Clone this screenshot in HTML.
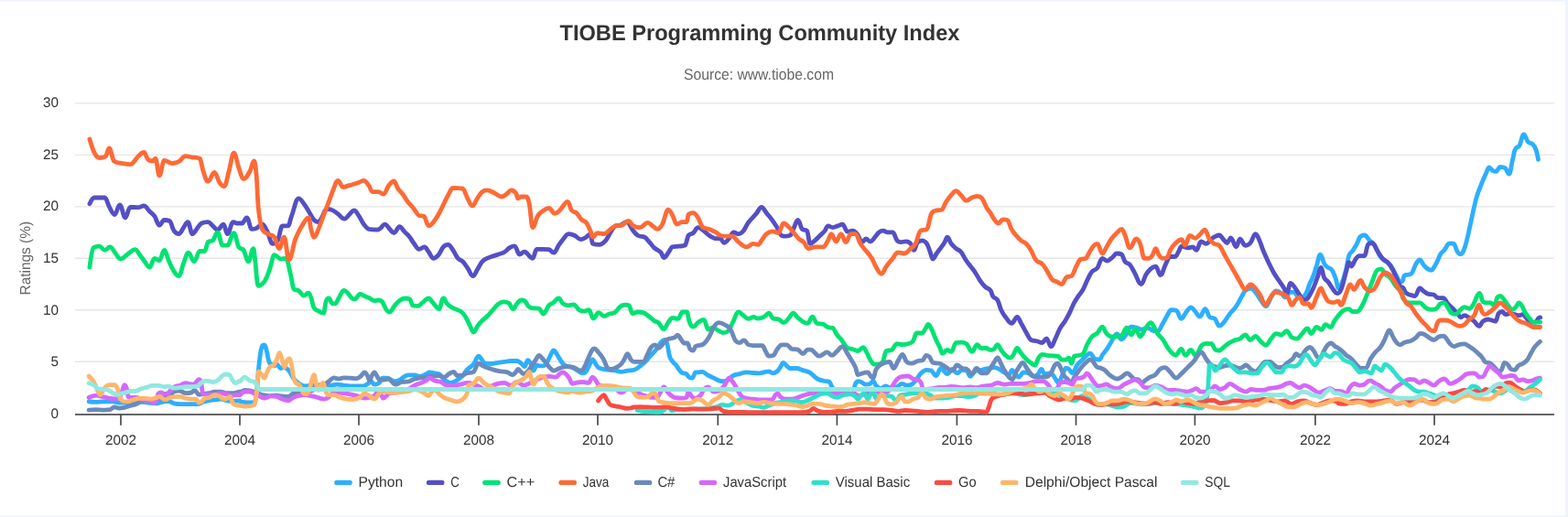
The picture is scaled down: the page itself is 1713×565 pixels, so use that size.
<!DOCTYPE html>
<html><head><meta charset="utf-8"><title>TIOBE Programming Community Index</title>
<style>
html,body{margin:0;padding:0;background:#f0f5fd;width:1713px;height:565px;overflow:hidden}
.card{position:absolute;left:-20px;top:0;width:1730px;height:563px;background:#fff}
.bot{position:absolute;left:0;top:563px;width:1710px;height:1px;background:#f6f8fd}
.topsh{position:absolute;left:0;top:0;width:1710px;height:7px;background:linear-gradient(#eef2fa 0,#eef2fa 1px,#f6f8fb 1px,#f6f8fb 2px,#fcfcfd 2px,#fdfdfd 6px,#fff 7px)}
svg{position:absolute;left:0;top:0}
text{font-family:"Liberation Sans", Arial, sans-serif;text-rendering:geometricPrecision}
</style></head><body>
<div class="card"></div><div class="bot"></div><div class="topsh"></div>
<svg width="1713" height="565" viewBox="0 0 1713 565">
<g><path d="M82 395.30H1698" stroke="#e6e6e6" stroke-width="1.4"/><path d="M82 338.81H1698" stroke="#e6e6e6" stroke-width="1.4"/><path d="M82 282.32H1698" stroke="#e6e6e6" stroke-width="1.4"/><path d="M82 225.83H1698" stroke="#e6e6e6" stroke-width="1.4"/><path d="M82 169.34H1698" stroke="#e6e6e6" stroke-width="1.4"/><path d="M82 112.85H1698" stroke="#e6e6e6" stroke-width="1.4"/></g>
<text x="830" y="44" text-anchor="middle" font-size="24" font-weight="bold" fill="#333333" textLength="437" lengthAdjust="spacingAndGlyphs">TIOBE Programming Community Index</text>
<text x="829" y="86.7" text-anchor="middle" font-size="17" fill="#666666" textLength="164" lengthAdjust="spacingAndGlyphs">Source: www.tiobe.com</text>
<g><text x="64" y="456.9" text-anchor="end" font-size="15.3" fill="#333333">0</text><text x="64" y="400.2" text-anchor="end" font-size="15.3" fill="#333333">5</text><text x="64" y="343.6" text-anchor="end" font-size="15.3" fill="#333333">10</text><text x="64" y="286.9" text-anchor="end" font-size="15.3" fill="#333333">15</text><text x="64" y="230.2" text-anchor="end" font-size="15.3" fill="#333333">20</text><text x="64" y="173.6" text-anchor="end" font-size="15.3" fill="#333333">25</text><text x="64" y="116.9" text-anchor="end" font-size="15.3" fill="#333333">30</text></g>
<text transform="translate(33.2 282.2) rotate(-90)" text-anchor="middle" font-size="16" fill="#666666" textLength="80.5" lengthAdjust="spacingAndGlyphs">Ratings (%)</text>
<g><path d="M82 453H1698" stroke="#333333" stroke-width="1.5"/><path d="M132.0 453V464.8" stroke="#4a4a4a" stroke-width="1.7"/><text x="132.0" y="486.2" text-anchor="middle" font-size="15.3" fill="#333333">2002</text><path d="M262.0 453V464.8" stroke="#4a4a4a" stroke-width="1.7"/><text x="262.0" y="486.2" text-anchor="middle" font-size="15.3" fill="#333333">2004</text><path d="M392.0 453V464.8" stroke="#4a4a4a" stroke-width="1.7"/><text x="392.0" y="486.2" text-anchor="middle" font-size="15.3" fill="#333333">2006</text><path d="M523.0 453V464.8" stroke="#4a4a4a" stroke-width="1.7"/><text x="523.0" y="486.2" text-anchor="middle" font-size="15.3" fill="#333333">2008</text><path d="M653.0 453V464.8" stroke="#4a4a4a" stroke-width="1.7"/><text x="653.0" y="486.2" text-anchor="middle" font-size="15.3" fill="#333333">2010</text><path d="M784.3 453V464.8" stroke="#4a4a4a" stroke-width="1.7"/><text x="784.3" y="486.2" text-anchor="middle" font-size="15.3" fill="#333333">2012</text><path d="M914.4 453V464.8" stroke="#4a4a4a" stroke-width="1.7"/><text x="914.4" y="486.2" text-anchor="middle" font-size="15.3" fill="#333333">2014</text><path d="M1045.4 453V464.8" stroke="#4a4a4a" stroke-width="1.7"/><text x="1045.4" y="486.2" text-anchor="middle" font-size="15.3" fill="#333333">2016</text><path d="M1175.5 453V464.8" stroke="#4a4a4a" stroke-width="1.7"/><text x="1175.5" y="486.2" text-anchor="middle" font-size="15.3" fill="#333333">2018</text><path d="M1305.4 453V464.8" stroke="#4a4a4a" stroke-width="1.7"/><text x="1305.4" y="486.2" text-anchor="middle" font-size="15.3" fill="#333333">2020</text><path d="M1436.9 453V464.8" stroke="#4a4a4a" stroke-width="1.7"/><text x="1436.9" y="486.2" text-anchor="middle" font-size="15.3" fill="#333333">2022</text><path d="M1567.0 453V464.8" stroke="#4a4a4a" stroke-width="1.7"/><text x="1567.0" y="486.2" text-anchor="middle" font-size="15.3" fill="#333333">2024</text></g>
<g><path d="M97.1 438.8C97.1 438.8 101.4 439.3 104.3 439.3C108.1 439.3 110.1 438.8 113.9 438.8C117.7 438.8 119.6 438.8 123.4 438.8C126.0 438.8 127.2 440.1 129.8 440.1C133.0 440.1 134.6 440.1 137.8 440.1C141.0 440.1 142.5 440.0 145.7 439.8C148.9 439.6 150.5 439.3 153.7 439.3C156.9 439.3 158.4 439.8 161.6 440.1C164.8 440.4 166.4 440.9 169.6 440.9C172.8 440.9 174.4 439.8 177.6 439.3C180.1 438.9 181.4 438.5 183.9 438.5C186.5 438.5 187.7 440.3 190.3 440.9C192.9 441.5 194.1 441.7 196.7 441.7C199.3 441.7 200.5 441.7 203.1 441.7C205.6 441.7 206.9 441.7 209.4 441.7C212.0 441.7 213.2 441.7 215.8 441.7C218.4 441.7 219.6 440.1 222.2 439.3C224.7 438.5 226.0 438.2 228.5 437.7C231.1 437.2 232.3 437.2 234.9 436.9C237.5 436.6 238.7 436.1 241.3 436.1C243.9 436.1 245.1 437.2 247.7 437.7C250.2 438.2 251.5 438.5 254.0 438.5C257.2 438.5 258.8 437.9 262.0 437.9C262.0 437.9 262.0 438.5 262.0 438.5C264.1 439.2 265.2 439.4 267.3 439.7C269.4 440.0 270.5 440.0 272.6 440.0C274.7 440.0 275.8 440.0 277.9 439.7C279.0 439.4 279.5 435.8 280.6 427.3C281.3 421.6 281.7 411.5 282.4 404.3C283.4 393.8 284.0 389.2 285.0 383.0C286.4 376.8 287.2 376.8 288.6 376.8C289.6 376.8 290.2 379.4 291.2 383.0C292.3 386.8 292.8 392.7 293.9 395.4C294.9 398.1 295.5 397.4 296.5 398.1C297.9 399.1 298.7 399.8 300.1 399.8C301.1 399.8 301.7 398.1 302.7 398.1C304.1 398.1 304.9 402.5 306.3 402.5C307.7 402.5 308.4 401.6 309.8 401.6C311.9 401.6 313.0 402.0 315.1 404.3C317.2 406.6 318.3 410.3 320.4 413.1C322.5 415.9 323.6 416.9 325.7 418.4C328.5 420.4 330.0 422.0 332.8 422.0C335.6 422.0 337.1 421.1 339.9 421.1C342.7 421.1 344.2 421.1 347.0 421.1C349.8 421.1 351.3 420.2 354.1 420.2C356.9 420.2 358.4 421.1 361.2 421.1C364.0 421.1 365.4 420.2 368.2 420.2C371.0 420.2 372.5 420.7 375.3 421.1C378.1 421.5 379.6 422.0 382.4 422.0C385.2 422.0 386.7 422.0 389.5 422.0C392.3 422.0 393.8 422.0 396.6 422.0C398.7 422.0 399.8 420.6 401.9 419.3C403.3 418.5 404.0 416.7 405.4 416.7C406.8 416.7 407.6 420.2 409.0 420.2C411.1 420.2 412.2 420.1 414.3 418.4C415.7 417.3 416.4 413.1 417.8 413.1C419.9 413.1 421.0 413.1 423.1 413.1C424.5 413.1 425.3 414.3 426.7 414.9C428.8 415.8 429.9 416.7 432.0 416.7C434.1 416.7 435.2 416.0 437.3 414.9C438.7 414.2 439.4 413.0 440.8 412.2C442.9 411.0 444.0 409.9 446.1 409.9C448.9 409.9 450.4 409.9 453.2 409.9C455.3 409.9 456.4 411.3 458.5 411.3C461.3 411.3 462.8 409.9 465.6 408.7C467.0 408.1 467.8 406.9 469.2 406.9C471.3 406.9 472.4 407.4 474.5 407.8C476.6 408.2 477.7 407.8 479.8 408.7C481.9 409.6 483.0 413.2 485.1 414.9C487.9 417.1 489.4 418.4 492.2 418.4C494.3 418.4 495.4 417.9 497.5 416.7C500.3 415.1 501.8 414.1 504.6 411.3C506.7 409.2 507.8 406.8 509.9 404.3C510.7 403.3 511.2 403.2 512.0 402.5C514.1 400.7 515.2 400.7 517.3 398.1C519.6 395.3 520.7 389.2 523.0 389.2C524.3 389.2 524.9 391.3 526.2 392.8C527.6 394.5 528.3 396.9 529.7 397.2C532.5 397.5 534.0 397.5 536.8 397.5C539.6 397.5 541.1 396.7 543.9 396.3C546.7 395.9 548.2 395.8 551.0 395.4C553.8 395.0 555.2 394.5 558.0 394.5C560.8 394.5 562.3 394.5 565.1 394.5C567.2 394.5 568.3 396.5 570.4 398.1C571.5 398.9 572.0 400.7 573.1 400.7C574.5 400.7 575.2 393.6 576.6 393.6C578.0 393.6 578.8 395.4 580.2 398.1C581.2 400.0 581.8 405.1 582.8 405.1C584.2 405.1 585.0 399.0 586.4 399.0C587.8 399.0 588.5 399.8 589.9 399.8C591.3 399.8 592.0 399.8 593.4 399.8C594.8 399.8 595.6 399.2 597.0 397.2C598.4 395.3 599.1 392.6 600.5 390.1C602.3 386.9 603.2 383.0 605.0 383.0C606.4 383.0 607.1 385.4 608.5 387.4C609.6 389.0 610.1 390.2 611.2 391.9C612.6 394.1 613.3 395.6 614.7 397.2C616.1 398.8 616.8 399.2 618.2 399.8C621.0 401.0 622.5 400.4 625.3 401.6C628.1 402.8 629.6 404.3 632.4 406.0C633.8 406.8 634.5 407.8 635.9 407.8C637.3 407.8 638.1 407.8 639.5 406.9C641.3 406.0 642.1 402.1 643.9 399.0C645.3 396.5 646.0 392.8 647.4 392.8C648.8 392.8 649.6 396.1 651.0 398.1C652.0 399.6 652.6 400.9 653.6 401.6C655.8 403.0 656.8 402.9 659.0 403.4C661.8 404.0 663.2 404.0 666.0 404.3C668.8 404.6 670.3 404.6 673.1 405.1C675.2 405.5 676.3 406.4 678.4 406.4C681.2 406.4 682.7 405.5 685.5 405.1C688.3 404.7 689.8 405.1 692.6 404.3C695.4 403.5 696.9 401.8 699.7 399.8C701.8 398.3 702.9 397.5 705.0 395.4C707.1 393.3 708.2 391.6 710.3 389.2C713.1 385.9 714.6 384.8 717.4 381.2C719.5 378.5 720.6 375.6 722.7 373.3C724.1 371.8 724.8 371.5 726.2 371.5C727.3 371.5 727.8 372.3 728.9 375.9C729.9 379.4 730.5 385.9 731.5 389.2C732.9 393.7 733.7 393.4 735.1 395.4C736.5 397.3 737.2 397.2 738.6 399.0C740.0 400.8 740.8 402.5 742.2 404.3C743.6 406.0 744.3 407.4 745.7 407.8C747.1 408.2 747.9 407.8 749.3 408.2C750.7 408.6 751.4 411.3 752.8 412.2C754.2 413.1 754.9 413.1 756.3 413.1C757.7 413.1 758.5 406.9 759.9 406.9C760.7 406.9 761.2 406.9 762.0 406.9C764.1 406.9 765.2 406.4 767.3 406.4C769.4 406.4 770.5 408.5 772.6 409.6C775.4 411.1 776.9 411.8 779.7 413.1C782.5 414.4 784.0 415.9 786.8 416.3C788.6 416.7 789.4 416.7 791.2 416.7C793.0 416.7 793.8 416.0 795.6 414.9C797.8 413.5 798.8 411.6 801.0 410.5C803.8 409.1 805.2 409.4 808.0 408.7C810.8 408.0 812.3 406.9 815.1 406.9C817.9 406.9 819.4 407.3 822.2 407.5C825.0 407.7 826.5 407.8 829.3 407.8C832.1 407.8 833.6 406.9 836.4 406.4C837.8 406.2 838.5 406.0 839.9 406.0C841.7 406.0 842.5 407.8 844.3 407.8C846.1 407.8 847.0 407.4 848.8 406.0C850.2 404.9 850.9 403.5 852.3 401.6C853.7 399.7 854.4 396.3 855.8 396.3C857.2 396.3 858.0 398.5 859.4 399.8C860.8 401.0 861.5 402.5 862.9 402.5C865.7 402.5 867.2 402.5 870.0 402.5C872.8 402.5 874.3 403.7 877.1 404.6C879.9 405.5 881.4 405.6 884.2 406.9C885.6 407.6 886.3 408.5 887.7 409.6C889.8 411.3 890.9 412.9 893.0 414.0C895.8 415.5 897.3 415.6 900.1 416.3C902.6 417.0 903.8 416.3 906.3 417.5C907.4 418.7 907.9 421.2 909.0 422.9C910.4 425.1 911.1 426.4 912.5 427.3C914.6 428.2 915.7 428.2 917.8 428.2C920.6 428.2 922.1 428.2 924.9 428.2C927.7 428.2 929.2 428.2 932.0 427.3C933.0 426.4 933.6 421.4 934.6 419.3C935.7 417.1 936.2 416.7 937.3 416.7C938.7 416.7 939.4 416.9 940.8 417.5C942.9 418.3 944.0 420.2 946.1 420.2C947.5 420.2 948.3 420.2 949.7 419.8C951.5 419.4 952.3 416.7 954.1 416.7C955.2 416.7 955.7 420.0 956.8 421.1C958.9 423.2 960.0 424.6 962.1 424.6C964.2 424.6 965.3 422.0 967.4 422.0C969.2 422.0 970.0 423.7 971.8 423.7C972.9 423.7 973.4 423.7 974.5 423.7C976.6 423.7 977.7 423.7 979.8 422.9C981.9 422.1 983.0 419.3 985.1 419.3C987.2 419.3 988.3 421.1 990.4 421.1C992.5 421.1 993.6 421.1 995.7 420.2C997.8 419.3 998.9 417.4 1001.0 414.9C1003.1 412.4 1004.2 409.8 1006.3 407.8C1008.6 405.6 1009.7 404.3 1012.0 404.3C1014.1 404.3 1015.2 404.3 1017.3 405.1C1019.4 405.9 1020.5 410.5 1022.6 410.5C1024.7 410.5 1025.8 402.5 1027.9 402.5C1030.7 402.5 1032.2 408.7 1035.0 408.7C1037.1 408.7 1038.2 403.4 1040.3 403.4C1042.4 403.4 1043.5 407.8 1045.6 407.8C1047.8 407.8 1048.8 404.3 1051.0 404.3C1053.1 404.3 1054.2 404.3 1056.3 405.1C1057.7 405.9 1058.4 411.3 1059.8 411.3C1061.9 411.3 1063.0 407.2 1065.1 406.0C1067.9 404.4 1069.4 405.0 1072.2 404.3C1075.0 403.6 1076.5 403.0 1079.3 402.5C1082.1 402.0 1083.6 401.6 1086.4 401.6C1088.5 401.6 1089.6 402.3 1091.7 403.4C1093.8 404.5 1094.9 405.7 1097.0 406.9C1099.1 408.1 1100.2 409.6 1102.3 409.6C1103.7 409.6 1104.4 404.3 1105.8 404.3C1107.2 404.3 1108.0 407.1 1109.4 408.7C1110.8 410.3 1111.5 412.2 1112.9 412.2C1115.0 412.2 1116.1 406.9 1118.2 406.9C1120.3 406.9 1121.4 406.9 1123.5 407.8C1125.7 408.7 1126.7 411.3 1128.9 411.3C1131.0 411.3 1132.1 410.6 1134.2 408.7C1135.6 407.4 1136.3 403.4 1137.7 403.4C1139.1 403.4 1139.8 408.7 1141.2 408.7C1143.4 408.7 1144.4 407.8 1146.6 407.8C1148.0 407.8 1148.7 408.2 1150.1 409.6C1151.5 411.0 1152.2 412.9 1153.6 414.9C1154.7 416.4 1155.2 418.4 1156.3 418.4C1158.1 418.4 1158.9 413.1 1160.7 409.6C1162.1 406.7 1162.9 402.5 1164.3 402.5C1165.7 402.5 1166.4 402.5 1167.8 403.4C1169.2 404.3 1169.9 407.8 1171.3 407.8C1173.5 407.8 1174.5 401.9 1176.7 399.0C1178.8 396.2 1179.9 395.7 1182.0 393.6C1184.1 391.5 1185.2 390.1 1187.3 388.3C1188.7 387.1 1189.4 386.2 1190.8 386.2C1192.9 386.2 1194.0 391.0 1196.1 391.9C1197.5 392.8 1198.3 392.4 1199.7 392.8C1200.1 392.9 1200.4 393.2 1200.8 393.2C1202.4 393.2 1203.1 389.6 1204.7 387.4C1207.0 384.1 1208.2 383.1 1210.5 379.6C1212.8 376.1 1214.0 373.3 1216.3 369.8C1217.9 367.5 1218.6 365.0 1220.2 365.0C1222.2 365.0 1223.1 370.8 1225.1 370.8C1227.1 370.8 1228.0 368.4 1230.0 365.9C1232.3 363.0 1233.5 357.2 1235.8 357.2C1238.2 357.2 1239.3 357.5 1241.7 358.1C1244.0 358.7 1245.2 360.1 1247.5 360.1C1249.8 360.1 1251.0 358.1 1253.3 358.1C1255.7 358.1 1256.8 360.3 1259.2 361.1C1261.5 361.9 1262.7 362.0 1265.0 362.0C1267.0 362.0 1267.9 357.6 1269.9 354.3C1271.9 351.0 1272.8 348.7 1274.8 345.5C1276.7 342.4 1277.7 338.7 1279.6 338.7C1282.0 338.7 1283.1 338.7 1285.5 339.6C1287.4 340.5 1288.4 348.4 1290.3 348.4C1292.7 348.4 1293.8 343.4 1296.2 340.6C1298.1 338.3 1299.1 335.8 1301.0 335.8C1303.0 335.8 1303.9 338.5 1305.9 340.6C1307.9 342.7 1308.8 346.1 1310.8 346.1C1313.1 346.1 1314.3 337.7 1316.6 337.7C1318.6 337.7 1319.5 344.6 1321.5 346.5C1323.8 348.4 1325.0 346.5 1327.3 348.4C1329.2 350.3 1330.1 356.1 1332.0 356.1C1333.7 356.1 1334.5 355.2 1336.2 353.3C1339.0 350.1 1340.5 347.0 1343.3 343.3C1346.1 339.6 1347.6 338.9 1350.4 334.8C1352.7 331.5 1353.8 328.8 1356.1 324.9C1357.8 322.0 1358.6 319.6 1360.3 317.9C1362.6 315.6 1363.7 315.0 1366.0 315.0C1368.2 315.0 1369.4 316.8 1371.6 319.3C1373.9 321.9 1375.0 324.7 1377.3 327.8C1379.6 330.9 1380.7 334.8 1383.0 334.8C1385.2 334.8 1386.4 328.3 1388.6 324.9C1390.9 321.5 1392.0 317.9 1394.3 317.9C1396.6 317.9 1397.7 319.1 1400.0 320.7C1401.7 321.9 1402.5 324.9 1404.2 324.9C1406.5 324.9 1407.6 319.3 1409.9 319.3C1411.6 319.3 1412.4 319.3 1414.1 319.3C1415.8 319.3 1416.7 324.9 1418.4 324.9C1420.1 324.9 1420.9 324.9 1422.6 324.9C1424.3 324.9 1425.1 323.8 1426.8 320.7C1428.5 317.6 1429.4 313.5 1431.1 309.4C1432.2 306.7 1432.8 306.6 1433.9 303.7C1435.6 299.2 1436.5 296.2 1438.2 291.0C1439.9 286.0 1440.7 278.2 1442.4 278.2C1444.1 278.2 1445.0 285.2 1446.7 288.1C1448.4 290.9 1449.2 291.0 1450.9 292.4C1452.6 293.8 1453.5 292.6 1455.2 295.2C1456.9 297.7 1457.7 300.3 1459.4 305.1C1460.5 308.3 1461.1 315.0 1462.2 315.0C1463.9 315.0 1464.8 312.3 1466.5 308.0C1468.2 303.8 1469.0 300.5 1470.7 293.8C1471.9 289.2 1472.4 282.8 1473.6 279.6C1475.3 274.9 1476.1 276.5 1477.8 274.0C1479.5 271.4 1480.4 270.1 1482.1 266.9C1483.8 263.8 1484.6 259.8 1486.3 258.4C1488.0 257.0 1488.9 257.0 1490.6 257.0C1492.8 257.0 1494.0 260.5 1496.2 262.7C1498.5 265.0 1499.6 264.9 1501.9 268.3C1504.1 271.7 1505.3 276.2 1507.5 279.6C1509.8 283.0 1510.9 283.3 1513.2 285.3C1515.5 287.3 1516.6 286.6 1518.9 289.5C1521.1 292.3 1522.3 295.8 1524.5 299.5C1526.8 303.2 1527.9 308.0 1530.2 308.0C1530.9 308.0 1531.3 308.0 1532.0 307.6C1532.8 307.2 1533.3 302.2 1534.1 301.2C1535.8 300.2 1536.7 300.7 1538.4 300.2C1539.7 299.8 1540.3 300.2 1541.6 299.1C1543.7 298.0 1544.8 291.9 1546.9 288.5C1548.6 285.8 1549.4 283.8 1551.1 283.8C1552.8 283.8 1553.6 287.6 1555.3 289.6C1557.0 291.6 1557.9 292.6 1559.6 293.8C1561.3 294.9 1562.1 295.3 1563.8 295.3C1564.5 295.3 1564.9 294.8 1565.6 293.7C1567.4 290.9 1568.4 289.2 1570.2 285.6C1571.6 282.9 1572.3 280.0 1573.7 277.8C1575.4 275.1 1576.3 275.3 1578.0 273.2C1580.1 270.6 1581.2 266.1 1583.3 266.1C1585.1 266.1 1586.1 266.1 1587.9 266.1C1589.6 266.1 1590.4 272.4 1592.1 275.0C1593.5 277.1 1594.2 277.8 1595.6 277.8C1597.3 277.8 1598.2 276.0 1599.9 271.4C1601.7 266.4 1602.7 261.6 1604.5 253.8C1606.3 246.0 1607.3 240.6 1609.1 232.5C1610.8 225.1 1611.6 220.5 1613.3 214.9C1615.4 207.8 1616.5 206.0 1618.6 200.7C1620.4 196.1 1621.4 194.1 1623.2 190.1C1624.6 187.0 1625.4 183.0 1626.8 183.0C1628.5 183.0 1629.3 185.9 1631.0 186.6C1632.4 187.3 1633.1 187.3 1634.5 187.3C1636.2 187.3 1637.1 182.3 1638.8 182.3C1641.0 182.3 1642.2 182.3 1644.4 183.7C1646.1 185.1 1647.0 190.1 1648.7 190.1C1650.1 190.1 1650.8 181.8 1652.2 176.0C1653.4 171.2 1653.9 166.1 1655.1 163.6C1657.1 159.3 1658.0 162.4 1660.0 159.0C1661.8 155.8 1662.8 147.0 1664.6 147.0C1666.4 147.0 1667.4 152.8 1669.2 154.8C1671.3 157.1 1672.4 155.5 1674.5 157.6C1675.9 159.0 1676.6 159.7 1678.0 163.6C1679.0 166.4 1680.5 174.2 1680.5 174.2" fill="none" stroke="#2caffe" stroke-width="4.8" stroke-linejoin="round" stroke-linecap="round"/>
<path d="M97.9 222.8C97.9 222.8 101.1 216.0 103.2 216.0C107.8 216.0 110.0 216.0 114.6 216.0C116.4 216.0 117.4 222.4 119.2 225.6C121.6 229.8 122.8 234.5 125.2 234.5C127.5 234.5 128.6 223.8 130.9 223.8C133.3 223.8 134.5 238.0 136.9 238.0C139.0 238.0 140.1 226.3 142.2 226.3C145.8 226.3 147.5 226.7 151.1 226.7C153.5 226.7 154.7 224.9 157.1 224.9C159.6 224.9 160.9 228.5 163.4 230.9C165.6 233.0 166.6 233.1 168.8 236.2C170.9 239.2 172.0 246.1 174.1 246.1C176.2 246.1 177.3 240.5 179.4 240.5C181.8 240.5 183.0 240.5 185.4 241.5C187.2 242.5 188.2 249.6 190.0 252.2C192.1 255.2 193.2 255.7 195.3 255.7C197.4 255.7 198.5 251.4 200.6 248.6C202.4 246.2 203.4 242.6 205.2 242.6C207.2 242.6 208.2 255.7 210.2 255.7C212.0 255.7 213.0 252.6 214.8 250.4C216.9 247.9 218.0 245.4 220.1 244.0C222.9 242.6 224.4 242.6 227.2 242.6C229.3 242.6 230.4 245.2 232.5 246.9C234.6 248.6 235.7 251.1 237.8 251.1C240.4 251.1 241.6 245.1 244.2 245.1C245.9 245.1 246.7 255.7 248.4 255.7C251.0 255.7 252.2 242.6 254.8 242.6C256.5 242.6 257.4 244.0 259.1 244.0C261.2 244.0 262.3 244.0 264.4 244.0C266.5 244.0 267.6 238.0 269.7 238.0C271.8 238.0 272.9 250.4 275.0 250.4C277.1 250.4 278.2 250.3 280.3 249.3C282.9 248.1 284.1 245.1 286.7 245.1C288.7 245.1 289.6 248.5 291.6 252.2C294.2 257.0 295.4 266.3 298.0 266.3C300.1 266.3 301.2 266.3 303.3 262.8C305.4 259.3 306.5 246.9 308.6 246.9C311.0 246.9 312.2 246.9 314.6 246.9C316.2 246.9 316.9 240.2 318.5 236.2C321.6 228.2 323.2 216.8 326.3 216.8C328.6 216.8 329.7 219.9 332.0 222.8C334.1 225.5 335.2 227.5 337.3 230.9C339.4 234.3 340.5 237.5 342.6 239.8C344.7 242.1 345.8 242.6 347.9 242.6C349.3 242.6 350.1 240.3 351.5 238.0C353.6 234.6 354.7 228.4 356.8 228.4C358.9 228.4 360.0 228.4 362.1 229.2C364.9 230.0 366.4 231.8 369.2 233.8C372.0 235.8 373.5 239.1 376.3 239.1C378.4 239.1 379.5 236.3 381.6 234.5C383.7 232.7 384.8 229.9 386.9 229.9C389.0 229.9 390.1 233.2 392.2 236.2C394.3 239.2 395.4 242.3 397.5 245.1C399.6 247.9 400.7 249.7 402.8 250.4C406.4 251.1 408.1 251.1 411.7 251.1C413.1 251.1 413.8 250.7 415.2 249.7C417.3 248.3 418.4 245.1 420.5 245.1C422.6 245.1 423.7 248.4 425.8 250.4C427.6 252.2 428.6 254.6 430.4 254.6C432.8 254.6 434.1 247.6 436.5 247.6C438.6 247.6 439.7 251.0 441.8 253.2C443.9 255.4 445.0 255.9 447.1 258.5C449.2 261.1 450.3 263.5 452.4 266.3C454.5 269.1 455.6 272.4 457.7 272.4C460.1 272.4 461.3 269.9 463.7 269.9C465.5 269.9 466.5 272.9 468.3 275.2C470.4 277.9 471.5 282.3 473.6 282.3C475.8 282.3 476.8 281.2 479.0 278.7C481.1 276.2 482.2 272.2 484.3 269.9C486.4 267.6 487.5 267.4 489.6 267.4C491.7 267.4 492.8 270.4 494.9 273.4C497.0 276.4 498.1 279.8 500.2 282.3C502.3 284.8 503.4 283.7 505.5 285.8C507.6 287.9 508.7 289.9 510.8 292.9C513.2 296.3 514.4 301.7 516.8 301.7C518.6 301.7 519.6 297.6 521.4 294.7C523.6 291.3 524.6 288.1 526.8 285.8C529.6 282.8 531.0 282.8 533.8 281.6C538.1 279.7 540.2 279.5 544.5 278.0C547.3 277.0 548.7 276.9 551.5 275.2C553.7 273.9 554.7 271.9 556.9 270.6C559.0 269.3 560.1 268.8 562.2 268.8C564.3 268.8 565.4 278.0 567.5 278.0C569.6 278.0 570.7 275.2 572.8 275.2C576.5 275.2 578.3 282.3 582.0 282.3C583.7 282.3 584.5 272.4 586.2 272.4C588.8 272.4 590.0 272.4 592.6 272.4C595.4 272.4 596.9 272.4 599.7 272.7C601.8 273.0 602.9 276.2 605.0 276.2C607.1 276.2 608.2 271.1 610.3 268.1C612.4 265.1 613.5 263.5 615.6 261.0C617.8 258.5 618.8 255.7 621.0 255.7C623.8 255.7 625.2 256.2 628.0 257.5C630.6 258.6 631.8 261.7 634.4 261.7C636.8 261.7 638.0 260.6 640.4 259.2C642.2 258.2 643.2 255.7 645.0 255.7C646.0 255.7 646.5 265.2 647.5 266.3C650.3 267.4 651.8 267.4 654.6 267.4C657.4 267.4 658.9 265.9 661.7 262.8C663.8 260.5 664.9 257.1 667.0 253.9C669.1 250.7 670.2 247.7 672.3 246.9C674.4 246.1 675.5 246.8 677.6 246.1C680.4 245.1 681.9 242.6 684.7 242.6C687.5 242.6 689.0 248.8 691.8 252.2C693.9 254.7 695.0 256.3 697.1 257.5C699.9 259.1 701.4 257.6 704.2 259.2C706.3 260.4 707.4 262.3 709.5 264.6C711.6 266.9 712.7 269.0 714.8 270.9C717.6 273.5 719.1 273.0 721.9 275.9C723.3 277.3 724.0 281.6 725.4 281.6C727.5 281.6 728.6 278.0 730.7 275.2C732.1 273.3 732.9 270.6 734.3 269.9C737.1 269.2 738.5 269.6 741.3 269.2C744.1 268.8 745.6 269.2 748.4 268.1C749.8 267.0 750.6 260.4 752.0 257.5C754.1 254.6 755.2 256.4 757.3 254.6C759.4 252.8 760.5 248.6 762.6 248.6C764.7 248.6 765.8 250.0 767.9 251.5C770.7 253.5 772.2 255.5 775.0 257.5C777.1 259.0 778.2 259.6 780.3 260.3C783.1 261.0 784.6 260.3 787.4 261.0C788.8 261.7 789.5 265.3 790.9 265.3C793.0 265.3 794.1 263.3 796.2 261.0C798.3 258.7 799.4 253.9 801.5 253.9C803.7 253.9 804.7 255.7 806.9 255.7C809.0 255.7 810.1 254.7 812.2 252.2C814.3 249.7 815.4 246.1 817.5 243.3C821.0 238.6 822.8 237.5 826.3 233.4C828.6 230.7 829.7 226.3 832.0 226.3C834.1 226.3 835.2 230.1 837.3 232.7C839.4 235.3 840.5 236.2 842.6 239.1C845.2 242.6 846.4 244.5 849.0 248.6C851.0 251.8 852.0 256.8 854.0 257.5C855.8 258.2 856.8 258.2 858.6 258.2C860.7 258.2 861.8 258.2 863.9 256.8C865.3 255.4 866.0 251.5 867.4 248.6C869.1 245.0 870.0 240.5 871.7 240.5C873.5 240.5 874.5 248.6 876.3 250.4C878.4 252.2 879.5 250.4 881.6 252.2C883.0 254.0 883.7 266.3 885.1 266.3C887.2 266.3 888.3 264.6 890.4 262.8C892.5 261.0 893.6 259.6 895.7 257.5C897.9 255.4 898.9 254.8 901.1 252.2C902.5 250.5 903.2 246.9 904.6 246.9C906.7 246.9 907.8 248.6 909.9 248.6C912.0 248.6 913.1 247.6 915.2 246.9C917.3 246.2 918.4 245.1 920.5 245.1C922.6 245.1 923.7 253.2 925.8 253.2C928.0 253.2 929.0 252.2 931.2 252.2C933.3 252.2 934.4 253.2 936.5 255.7C938.6 258.2 939.7 264.6 941.8 264.6C943.5 264.6 944.3 261.0 946.0 261.0C947.8 261.0 948.8 263.9 950.6 263.9C952.7 263.9 953.8 261.4 955.9 259.2C957.6 257.4 958.5 255.3 960.2 253.9C962.0 252.5 963.0 252.2 964.8 252.2C966.9 252.2 968.0 253.9 970.1 253.9C972.2 253.9 973.3 253.9 975.4 253.9C977.2 253.9 978.2 261.0 980.0 262.8C981.7 264.6 982.6 264.6 984.3 264.6C986.4 264.6 987.5 263.9 989.6 263.9C991.7 263.9 992.8 264.0 994.9 266.3C996.3 267.8 997.0 273.4 998.4 273.4C999.8 273.4 1000.6 267.8 1002.0 265.3C1004.1 262.8 1005.2 262.8 1007.3 262.8C1009.4 262.8 1010.5 263.3 1012.6 266.3C1014.0 268.3 1014.7 271.5 1016.1 275.2C1017.3 278.2 1017.8 283.0 1019.0 283.0C1020.7 283.0 1021.5 279.3 1023.2 277.0C1025.3 274.1 1026.4 272.9 1028.5 269.9C1029.9 267.9 1030.7 267.0 1032.1 264.6C1033.2 262.7 1033.8 259.2 1034.9 259.2C1036.6 259.2 1037.5 264.1 1039.2 266.3C1041.3 269.0 1042.4 269.8 1044.5 271.6C1046.6 273.4 1047.7 272.7 1049.8 275.2C1051.9 277.7 1053.0 280.8 1055.1 284.0C1057.2 287.2 1058.3 288.3 1060.4 291.1C1062.5 293.9 1063.6 295.0 1065.7 298.2C1067.8 301.4 1068.9 304.1 1071.0 307.1C1073.1 310.1 1074.2 311.4 1076.3 313.4C1078.6 315.5 1079.7 314.5 1082.0 317.3C1083.2 318.7 1083.7 322.5 1084.9 324.1C1086.9 326.8 1087.8 324.7 1089.8 328.0C1091.4 330.6 1092.1 335.4 1093.7 338.7C1095.6 342.8 1096.6 344.1 1098.5 346.5C1101.3 349.9 1102.6 353.3 1105.4 353.3C1107.7 353.3 1108.9 346.5 1111.2 346.5C1113.2 346.5 1114.1 351.0 1116.1 354.3C1118.0 357.6 1119.0 359.9 1120.9 363.0C1123.3 366.9 1124.4 370.9 1126.8 371.8C1129.1 372.7 1130.3 372.1 1132.6 372.7C1135.0 373.3 1136.1 374.7 1138.5 374.7C1140.4 374.7 1141.4 369.8 1143.3 369.8C1145.3 369.8 1146.2 378.6 1148.2 378.6C1150.2 378.6 1151.1 373.7 1153.1 369.8C1155.0 365.9 1156.0 362.6 1157.9 359.1C1160.3 354.8 1161.4 354.3 1163.8 350.4C1165.7 347.3 1166.7 345.5 1168.6 341.6C1170.6 337.7 1171.5 334.6 1173.5 330.9C1175.5 327.2 1176.4 326.1 1178.4 323.1C1180.3 320.2 1181.3 319.8 1183.2 316.3C1185.2 312.8 1186.1 309.5 1188.1 305.6C1190.1 301.7 1191.0 299.1 1193.0 296.8C1195.3 294.0 1196.5 295.9 1198.8 292.9C1201.0 290.1 1202.0 282.3 1204.2 282.3C1206.3 282.3 1207.4 285.1 1209.5 285.1C1211.6 285.1 1212.7 283.2 1214.8 281.6C1216.9 280.0 1218.0 277.0 1220.1 277.0C1222.2 277.0 1223.3 277.0 1225.4 278.0C1226.8 279.0 1227.6 284.0 1229.0 285.8C1231.1 288.5 1232.2 286.8 1234.3 289.3C1236.4 291.8 1237.5 294.6 1239.6 298.2C1242.4 303.1 1243.9 310.6 1246.7 310.6C1248.8 310.6 1249.9 303.4 1252.0 300.0C1254.1 296.6 1255.2 295.4 1257.3 293.6C1259.4 291.8 1260.5 291.1 1262.6 291.1C1264.7 291.1 1265.8 300.7 1267.9 300.7C1270.0 300.7 1271.1 293.3 1273.2 289.3C1275.3 285.3 1276.4 280.5 1278.5 280.5C1280.6 280.5 1281.7 280.5 1283.8 280.5C1285.2 280.5 1286.0 277.5 1287.4 275.2C1288.8 273.0 1289.5 269.2 1290.9 269.2C1293.7 269.2 1295.2 270.9 1298.0 270.9C1300.1 270.9 1301.2 269.9 1303.3 269.9C1304.7 269.9 1305.5 273.4 1306.9 273.4C1309.0 273.4 1310.1 263.9 1312.2 263.9C1314.3 263.9 1315.4 266.3 1317.5 266.3C1320.3 266.3 1321.8 262.1 1324.6 260.3C1327.6 258.4 1329.0 257.0 1332.0 257.0C1333.7 257.0 1334.5 259.5 1336.2 261.2C1337.9 262.9 1338.8 265.5 1340.5 265.5C1342.2 265.5 1343.0 259.8 1344.7 259.8C1347.0 259.8 1348.1 269.7 1350.4 269.7C1352.1 269.7 1353.0 261.2 1354.7 261.2C1356.9 261.2 1358.1 268.3 1360.3 268.3C1362.6 268.3 1363.7 268.1 1366.0 265.5C1368.2 263.0 1369.4 255.6 1371.6 255.6C1373.3 255.6 1374.2 259.0 1375.9 262.7C1377.6 266.3 1378.4 269.9 1380.1 274.0C1382.4 279.5 1383.5 281.9 1385.8 286.7C1388.1 291.5 1389.2 294.0 1391.5 298.0C1393.7 301.9 1394.9 303.1 1397.1 306.5C1399.4 309.9 1400.5 311.2 1402.8 315.0C1403.9 316.9 1404.5 320.7 1405.6 320.7C1407.3 320.7 1408.2 309.4 1409.9 309.4C1411.6 309.4 1412.4 311.4 1414.1 313.6C1416.4 316.5 1417.5 318.8 1419.8 322.1C1421.5 324.5 1422.3 327.8 1424.0 327.8C1425.7 327.8 1426.6 327.8 1428.3 326.4C1429.4 325.5 1430.0 324.1 1431.1 322.1C1432.8 319.0 1433.6 317.5 1435.3 313.6C1437.0 309.6 1437.9 307.0 1439.6 302.3C1441.0 298.6 1441.6 292.4 1443.0 292.4C1444.5 292.4 1445.2 300.8 1446.7 303.7C1448.4 307.0 1449.2 305.8 1450.9 308.0C1453.2 310.9 1454.3 313.5 1456.6 316.4C1458.3 318.6 1459.1 320.7 1460.8 320.7C1462.5 320.7 1463.4 320.6 1465.1 316.4C1467.3 310.9 1468.5 304.4 1470.7 296.6C1471.9 292.5 1472.4 286.7 1473.6 286.7C1474.7 286.7 1475.3 291.0 1476.4 291.0C1478.1 291.0 1478.9 286.2 1480.6 283.9C1482.3 281.6 1483.2 279.6 1484.9 279.6C1487.2 279.6 1488.3 279.6 1490.6 279.6C1492.3 279.6 1493.1 268.3 1494.8 266.9C1496.5 265.5 1497.3 265.5 1499.0 265.5C1501.3 265.5 1502.4 270.6 1504.7 274.0C1507.0 277.4 1508.1 279.9 1510.4 282.5C1512.6 285.0 1513.8 284.2 1516.0 286.7C1518.3 289.3 1519.4 290.9 1521.7 295.2C1524.0 299.5 1525.1 303.3 1527.4 308.0C1529.2 311.7 1530.1 316.4 1531.9 316.4C1531.9 316.4 1532.0 314.0 1532.0 314.0C1533.7 314.0 1534.5 318.8 1536.2 320.3C1538.4 322.2 1539.4 321.8 1541.6 322.5C1543.3 323.1 1544.1 323.5 1545.8 323.5C1547.9 323.5 1549.0 315.0 1551.1 315.0C1552.8 315.0 1553.6 317.1 1555.3 318.2C1557.5 319.6 1558.5 320.8 1560.7 321.4C1562.8 322.0 1563.9 321.4 1566.0 322.0C1568.1 322.6 1569.2 325.6 1571.3 325.6C1573.4 325.6 1574.5 325.6 1576.6 325.6C1578.7 325.6 1579.8 329.7 1581.9 332.0C1584.0 334.3 1585.1 335.2 1587.2 337.3C1589.3 339.4 1590.4 340.2 1592.5 342.6C1593.8 344.0 1594.4 346.9 1595.7 346.9C1597.4 346.9 1598.2 344.7 1599.9 344.7C1602.0 344.7 1603.1 346.2 1605.2 347.5C1607.3 348.8 1608.4 349.3 1610.5 351.1C1612.6 352.9 1613.7 356.4 1615.8 356.4C1617.5 356.4 1618.4 352.4 1620.1 351.1C1622.2 349.5 1623.3 349.0 1625.4 349.0C1627.1 349.0 1627.9 349.6 1629.6 350.0C1631.3 350.4 1632.2 351.1 1633.9 351.1C1635.2 351.1 1635.8 344.7 1637.1 342.6C1638.8 340.5 1639.6 340.5 1641.3 340.5C1642.6 340.5 1643.2 343.7 1644.5 343.7C1646.6 343.7 1647.7 342.6 1649.8 342.6C1651.9 342.6 1653.0 343.2 1655.1 343.7C1656.8 344.1 1657.7 344.7 1659.4 344.7C1661.1 344.7 1661.9 343.7 1663.6 343.7C1665.3 343.7 1666.2 346.2 1667.9 347.9C1669.6 349.6 1670.4 352.2 1672.1 352.2C1674.2 352.2 1675.3 352.2 1677.4 352.2C1678.7 352.2 1679.3 349.2 1680.6 347.9C1681.4 347.1 1682.7 346.9 1682.7 346.9" fill="none" stroke="#544fc5" stroke-width="4.8" stroke-linejoin="round" stroke-linecap="round"/>
<path d="M97.9 292.2C97.9 292.2 100.5 272.0 102.2 270.6C104.8 269.2 106.0 269.2 108.6 269.2C111.0 269.2 112.2 273.4 114.6 273.4C116.8 273.4 118.0 269.9 120.2 269.9C122.6 269.9 123.9 274.2 126.3 277.0C128.4 279.4 129.5 283.0 131.6 283.0C135.1 283.0 136.9 279.3 140.4 277.0C143.2 275.2 144.7 272.7 147.5 272.7C149.6 272.7 150.7 276.1 152.8 278.7C154.9 281.3 156.0 283.1 158.1 285.8C160.2 288.5 161.3 292.2 163.4 292.2C165.6 292.2 166.6 282.3 168.8 282.3C170.9 282.3 172.0 284.7 174.1 284.7C176.2 284.7 177.3 273.4 179.4 273.4C181.5 273.4 182.6 281.2 184.7 285.8C186.8 290.4 187.9 293.2 190.0 296.4C192.1 299.6 193.2 301.7 195.3 301.7C197.4 301.7 198.5 292.7 200.6 287.6C202.7 282.5 203.8 276.2 205.9 276.2C208.3 276.2 209.6 285.8 212.0 285.8C214.5 285.8 215.8 274.5 218.3 274.5C220.4 274.5 221.5 274.5 223.6 274.5C225.0 274.5 225.8 266.4 227.2 264.6C229.3 262.8 230.4 264.6 232.5 262.8C234.6 261.0 235.7 253.9 237.8 253.9C239.9 253.9 241.0 268.1 243.1 268.1C245.2 268.1 246.3 268.1 248.4 268.1C251.2 268.1 252.7 254.6 255.5 254.6C257.6 254.6 258.7 266.4 260.8 269.9C262.9 273.4 264.0 270.2 266.1 273.4C268.2 276.6 269.3 285.8 271.4 285.8C273.6 285.8 274.6 271.6 276.8 271.6C277.5 271.6 277.8 277.1 278.5 282.3C279.9 293.4 280.7 312.4 282.1 312.4C284.9 312.4 286.4 311.2 289.2 307.1C291.3 304.1 292.4 300.4 294.5 294.7C296.6 289.0 297.7 278.7 299.8 278.7C302.6 278.7 304.1 283.0 306.9 283.0C309.0 283.0 310.1 282.3 312.2 282.3C314.3 282.3 315.4 291.9 317.5 300.0C318.9 305.3 319.6 314.1 321.0 315.9C323.1 317.7 324.2 316.3 326.3 317.7C328.6 319.2 329.7 323.1 332.0 323.1C334.0 323.1 334.9 320.2 336.9 320.2C338.1 320.2 338.6 321.9 339.8 325.0C341.0 328.1 341.5 333.6 342.7 335.8C344.7 339.5 345.6 338.4 347.6 339.6C349.9 341.0 351.1 342.2 353.4 342.2C354.6 342.2 355.1 331.8 356.3 328.9C357.5 326.0 358.1 326.0 359.3 326.0C360.9 326.0 361.6 331.9 363.2 331.9C364.4 331.9 364.9 331.9 366.1 331.9C368.0 331.9 369.0 327.0 370.9 324.1C372.9 321.1 373.8 317.3 375.8 317.3C377.8 317.3 378.7 319.3 380.7 321.2C382.3 322.7 383.0 324.7 384.6 326.0C385.8 327.0 386.3 327.0 387.5 327.0C389.8 327.0 391.0 321.5 393.3 321.5C395.3 321.5 396.2 322.7 398.2 323.5C400.5 324.5 401.7 324.9 404.0 326.0C406.0 326.9 406.9 328.6 408.9 328.6C410.9 328.6 411.8 328.0 413.8 328.0C415.4 328.0 416.1 328.0 417.7 329.9C419.3 331.8 420.0 335.5 421.6 337.7C423.2 339.9 423.9 341.0 425.5 341.0C427.8 341.0 429.0 336.4 431.3 333.8C433.6 331.2 434.8 329.5 437.1 328.0C439.5 326.4 440.6 326.0 443.0 326.0C444.9 326.0 445.9 326.0 447.8 327.0C449.0 328.0 449.6 333.2 450.8 333.8C453.1 334.4 454.3 334.4 456.6 334.4C458.6 334.4 459.5 332.3 461.5 330.9C464.2 328.9 465.6 326.0 468.3 326.0C469.9 326.0 470.6 328.1 472.2 329.9C473.8 331.7 474.5 333.2 476.1 334.8C477.7 336.4 478.4 337.7 480.0 337.7C481.2 337.7 481.7 330.8 482.9 328.0C483.7 326.1 484.0 326.0 484.8 326.0C486.0 326.0 486.6 329.4 487.8 330.9C489.4 332.9 490.1 333.7 491.7 334.8C494.0 336.4 495.2 336.6 497.5 337.7C500.2 339.0 501.6 338.7 504.3 341.0C506.3 342.6 507.2 344.2 509.2 347.4C510.8 349.9 511.5 352.2 513.1 355.2C514.8 358.5 515.7 363.0 517.4 363.0C519.2 363.0 520.0 358.6 521.8 356.2C523.8 353.5 524.7 352.4 526.7 350.4C529.0 348.1 530.2 347.8 532.5 345.5C534.9 343.1 536.0 341.3 538.4 338.7C540.7 336.1 541.9 334.1 544.2 332.4C546.6 330.6 547.7 329.9 550.1 329.9C552.4 329.9 553.6 329.9 555.9 331.3C557.9 332.7 558.8 337.7 560.8 337.7C562.4 337.7 563.1 333.6 564.7 331.9C566.6 329.8 567.6 328.0 569.5 328.0C571.1 328.0 571.8 328.0 573.4 328.9C575.0 329.8 575.7 333.4 577.3 334.8C579.2 336.5 580.1 336.3 582.0 336.7C584.7 337.1 586.1 336.7 588.8 337.1C590.8 337.5 591.7 343.0 593.7 343.0C596.0 343.0 597.2 336.4 599.5 333.8C601.5 331.6 602.4 332.3 604.4 330.9C606.7 329.2 607.9 326.0 610.2 326.0C612.2 326.0 613.1 330.5 615.1 331.9C617.4 333.6 618.6 333.8 620.9 333.8C623.3 333.8 624.4 332.8 626.8 332.8C629.1 332.8 630.3 337.2 632.6 338.7C635.0 340.2 636.1 340.2 638.5 340.2C640.4 340.2 641.4 338.7 643.3 338.7C645.3 338.7 646.2 348.0 648.2 348.0C650.5 348.0 651.7 341.6 654.0 341.6C656.4 341.6 657.5 345.5 659.9 345.5C662.2 345.5 663.4 343.8 665.7 343.0C668.1 342.2 669.2 343.0 671.6 341.6C673.9 340.2 675.1 336.9 677.4 335.2C679.7 333.5 680.9 333.2 683.2 333.2C684.8 333.2 685.5 333.2 687.1 333.8C688.7 334.4 689.4 342.6 691.0 342.6C693.4 342.6 694.5 341.0 696.9 341.0C699.2 341.0 700.4 341.0 702.7 341.6C705.1 342.2 706.2 343.7 708.6 345.5C710.9 347.2 712.1 348.8 714.4 350.4C716.4 351.7 717.3 351.0 719.3 352.7C721.6 354.7 722.8 359.7 725.1 359.7C727.1 359.7 728.0 354.8 730.0 352.3C731.9 349.9 732.9 347.4 734.8 347.4C737.2 347.4 738.3 348.4 740.7 348.4C742.7 348.4 743.6 341.0 745.6 341.0C747.5 341.0 748.5 341.0 750.4 341.0C751.6 341.0 752.1 349.5 753.3 352.3C754.9 356.0 755.6 357.2 757.2 357.2C759.6 357.2 760.7 353.5 763.1 351.9C765.4 350.4 766.6 349.4 768.9 349.4C770.9 349.4 771.8 360.1 773.8 360.1C775.8 360.1 776.7 358.1 778.7 358.1C781.0 358.1 782.2 360.0 784.5 361.1C786.8 362.2 788.0 363.6 790.3 363.6C792.3 363.6 793.2 363.6 795.2 362.0C797.2 360.4 798.1 356.8 800.1 353.3C802.8 348.4 804.2 341.0 806.9 341.0C808.9 341.0 809.8 343.1 811.8 344.5C814.1 346.1 815.3 348.4 817.6 348.4C819.9 348.4 821.1 346.5 823.4 346.5C825.0 346.5 825.7 348.0 827.3 348.0C829.2 348.0 830.1 347.9 832.0 347.4C833.6 346.9 834.3 346.5 835.9 345.5C837.5 344.5 838.2 342.2 839.8 342.2C841.8 342.2 842.7 347.2 844.7 348.0C847.0 348.8 848.2 348.0 850.5 348.8C852.8 349.6 854.0 352.7 856.3 352.7C858.3 352.7 859.2 350.4 861.2 348.4C863.4 346.2 864.5 342.2 866.7 342.2C868.4 342.2 869.2 345.0 870.9 346.5C873.3 348.6 874.4 349.9 876.8 351.3C879.1 352.6 880.3 353.3 882.6 353.3C884.6 353.3 885.5 346.1 887.5 346.1C889.5 346.1 890.4 352.3 892.4 353.3C895.1 354.3 896.5 353.3 899.2 354.3C901.5 355.1 902.7 357.1 905.0 357.8C907.0 358.5 907.9 357.8 909.9 358.5C911.5 359.2 912.2 362.9 913.8 365.0C916.1 368.2 917.3 368.8 919.6 371.8C922.0 374.8 923.1 378.5 925.5 380.0C927.8 381.5 929.0 380.8 931.3 381.5C933.6 382.2 934.8 383.5 937.1 383.5C939.5 383.5 940.6 379.6 943.0 379.6C944.6 379.6 945.3 382.7 946.9 385.4C948.5 388.1 949.2 390.7 950.8 393.2C952.4 395.7 953.1 398.1 954.7 398.1C956.6 398.1 957.6 398.1 959.5 398.1C961.5 398.1 962.4 398.1 964.4 395.1C966.0 392.1 966.7 384.5 968.3 383.5C970.6 382.5 971.8 383.5 974.1 382.5C976.5 381.5 977.6 375.7 980.0 375.7C982.3 375.7 983.5 376.6 985.8 376.6C988.2 376.6 989.3 376.5 991.7 375.7C994.0 374.9 995.2 375.5 997.5 372.7C999.1 370.8 999.8 364.0 1001.4 364.0C1003.7 364.0 1004.9 364.0 1007.2 364.0C1008.8 364.0 1009.5 361.3 1011.1 359.1C1012.3 357.4 1012.8 354.3 1014.0 354.3C1015.6 354.3 1016.3 357.0 1017.9 360.1C1019.9 364.0 1020.8 367.5 1022.8 371.8C1024.4 375.3 1025.1 376.3 1026.7 379.6C1027.9 382.1 1028.4 386.4 1029.6 386.4C1031.6 386.4 1032.5 382.5 1034.5 382.5C1036.5 382.5 1037.4 384.4 1039.4 384.4C1041.3 384.4 1042.3 375.3 1044.2 374.7C1046.6 374.1 1047.7 374.1 1050.1 374.1C1052.4 374.1 1053.6 374.1 1055.9 375.7C1058.3 377.3 1059.4 384.4 1061.8 384.4C1064.1 384.4 1065.3 376.6 1067.6 376.6C1069.2 376.6 1069.9 380.5 1071.5 380.5C1073.8 380.5 1075.0 380.5 1077.3 380.5C1079.2 380.5 1080.1 382.5 1082.0 382.5C1083.6 382.5 1084.3 382.5 1085.9 381.5C1087.5 380.5 1088.2 376.6 1089.8 376.6C1091.4 376.6 1092.1 380.3 1093.7 382.5C1095.3 384.7 1096.0 386.0 1097.6 387.4C1099.9 389.5 1101.1 391.2 1103.4 391.2C1105.0 391.2 1105.7 389.5 1107.3 387.4C1108.9 385.3 1109.6 380.5 1111.2 380.5C1112.8 380.5 1113.5 383.5 1115.1 385.4C1117.4 388.2 1118.6 389.9 1120.9 392.2C1123.3 394.6 1124.4 395.5 1126.8 397.1C1128.4 398.2 1129.1 399.0 1130.7 399.0C1132.3 399.0 1133.0 393.5 1134.6 391.2C1136.2 388.9 1136.9 387.4 1138.5 387.4C1140.8 387.4 1142.0 388.0 1144.3 388.3C1146.6 388.6 1147.8 388.7 1150.1 388.9C1152.5 389.1 1153.6 388.9 1156.0 389.3C1157.6 389.7 1158.3 393.2 1159.9 393.2C1161.5 393.2 1162.2 393.2 1163.8 393.2C1165.4 393.2 1166.1 391.2 1167.7 391.2C1168.9 391.2 1169.4 397.1 1170.6 397.1C1171.8 397.1 1172.3 390.3 1173.5 389.3C1175.9 388.3 1177.0 389.0 1179.4 388.3C1180.9 387.8 1181.7 388.3 1183.2 386.4C1185.2 384.5 1186.1 379.4 1188.1 375.7C1190.1 372.0 1191.0 370.0 1193.0 367.9C1195.3 365.4 1196.5 366.2 1198.8 364.0C1201.0 361.9 1202.1 357.2 1204.3 357.2C1206.0 357.2 1206.9 362.2 1208.6 364.0C1210.9 366.5 1212.1 367.9 1214.4 367.9C1216.7 367.9 1217.9 367.9 1220.2 367.9C1222.6 367.9 1223.7 367.9 1226.1 365.9C1228.0 363.9 1229.0 358.1 1230.9 358.1C1232.9 358.1 1233.8 365.9 1235.8 365.9C1237.8 365.9 1238.7 359.1 1240.7 359.1C1242.7 359.1 1243.6 367.9 1245.6 367.9C1247.9 367.9 1249.1 362.1 1251.4 359.1C1253.7 356.1 1254.9 352.7 1257.2 352.7C1258.8 352.7 1259.5 355.6 1261.1 358.1C1262.7 360.6 1263.4 362.8 1265.0 365.0C1267.4 368.3 1268.5 368.5 1270.9 371.8C1273.2 375.1 1274.4 378.7 1276.7 381.5C1279.8 385.3 1281.4 388.3 1284.5 388.3C1286.8 388.3 1288.0 381.5 1290.3 381.5C1292.3 381.5 1293.2 388.3 1295.2 388.3C1297.5 388.3 1298.7 382.5 1301.0 382.5C1303.0 382.5 1303.9 388.3 1305.9 388.3C1308.6 388.3 1310.0 380.6 1312.7 377.6C1314.7 375.4 1315.6 375.3 1317.6 375.3C1319.9 375.3 1321.1 375.3 1323.4 375.7C1325.4 376.1 1326.3 382.0 1328.3 382.5C1329.8 383.0 1330.5 383.0 1332.0 383.0C1334.3 383.0 1335.4 380.4 1337.7 378.7C1339.9 377.0 1341.1 375.9 1343.3 374.5C1345.6 373.1 1346.7 372.6 1349.0 371.7C1351.3 370.8 1352.4 371.4 1354.7 370.2C1356.9 369.1 1358.1 366.0 1360.3 366.0C1362.6 366.0 1363.7 371.7 1366.0 371.7C1368.2 371.7 1369.4 367.4 1371.6 367.4C1373.9 367.4 1375.0 371.1 1377.3 373.1C1379.6 375.1 1380.7 377.3 1383.0 377.3C1385.2 377.3 1386.4 372.7 1388.6 370.2C1390.9 367.6 1392.0 364.6 1394.3 364.6C1396.6 364.6 1397.7 366.0 1400.0 366.0C1402.2 366.0 1403.4 361.7 1405.6 361.7C1407.9 361.7 1409.0 367.4 1411.3 368.8C1413.5 370.2 1414.7 370.2 1416.9 370.2C1419.2 370.2 1420.3 366.9 1422.6 364.6C1424.9 362.3 1426.0 358.9 1428.3 358.9C1430.0 358.9 1430.8 364.6 1432.5 364.6C1434.8 364.6 1435.9 357.5 1438.2 357.5C1440.4 357.5 1441.6 360.3 1443.8 360.3C1445.5 360.3 1446.4 354.7 1448.1 354.7C1450.3 354.7 1451.5 357.5 1453.7 357.5C1455.4 357.5 1456.3 353.0 1458.0 350.4C1459.7 347.9 1460.5 346.7 1462.2 344.8C1464.5 342.2 1465.6 340.5 1467.9 339.1C1470.2 337.7 1471.3 337.7 1473.6 337.7C1475.3 337.7 1476.1 340.5 1477.8 340.5C1479.5 340.5 1480.4 340.5 1482.1 340.5C1484.3 340.5 1485.5 338.4 1487.7 334.8C1490.0 331.1 1491.1 327.5 1493.4 322.1C1495.6 316.8 1496.8 313.3 1499.0 308.0C1501.3 302.6 1502.4 296.6 1504.7 295.2C1506.4 293.8 1507.3 293.8 1509.0 293.8C1510.7 293.8 1511.5 297.8 1513.2 299.5C1515.5 301.8 1516.6 301.1 1518.9 303.7C1521.1 306.2 1522.3 309.4 1524.5 312.2C1526.8 315.1 1527.9 315.3 1530.2 317.9C1530.9 318.7 1531.2 318.2 1531.9 320.7C1531.9 320.8 1532.0 324.5 1532.0 324.6C1533.7 328.2 1534.5 328.9 1536.2 329.9C1538.8 330.9 1540.0 330.9 1542.6 330.9C1546.0 330.9 1547.7 330.9 1551.1 330.9C1553.7 330.9 1554.9 334.8 1557.5 336.3C1560.0 337.8 1561.3 338.4 1563.8 338.4C1565.9 338.4 1567.0 338.4 1569.1 337.3C1570.8 336.2 1571.7 333.1 1573.4 332.0C1575.1 330.9 1575.9 330.9 1577.6 330.9C1579.3 330.9 1580.2 333.9 1581.9 336.3C1583.6 338.6 1584.4 341.9 1586.1 342.6C1587.8 343.3 1588.7 343.3 1590.4 343.3C1592.5 343.3 1593.6 340.1 1595.7 338.4C1597.4 337.0 1598.2 335.6 1599.9 335.6C1602.0 335.6 1603.1 337.3 1605.2 337.3C1606.9 337.3 1607.8 335.9 1609.5 333.1C1611.2 330.4 1612.0 326.6 1613.7 323.5C1614.8 321.5 1615.4 320.3 1616.5 320.3C1617.9 320.3 1618.7 328.9 1620.1 329.9C1621.8 330.9 1622.6 330.9 1624.3 330.9C1626.0 330.9 1626.9 330.9 1628.6 330.9C1630.3 330.9 1631.1 334.1 1632.8 334.1C1634.1 334.1 1634.7 325.7 1636.0 324.6C1637.3 323.5 1637.9 323.5 1639.2 323.5C1640.9 323.5 1641.7 325.7 1643.4 327.8C1645.1 329.9 1646.0 332.0 1647.7 334.1C1649.4 336.2 1650.2 338.4 1651.9 338.4C1653.6 338.4 1654.5 336.9 1656.2 335.2C1657.5 333.9 1658.1 330.9 1659.4 330.9C1660.6 330.9 1661.3 332.1 1662.5 334.1C1664.2 336.8 1665.1 339.8 1666.8 342.6C1668.5 345.3 1669.3 346.0 1671.0 347.9C1672.7 349.8 1673.6 352.2 1675.3 352.2C1677.4 352.2 1678.5 352.2 1680.6 352.2C1681.4 352.2 1682.7 352.2 1682.7 352.2" fill="none" stroke="#00e272" stroke-width="4.8" stroke-linejoin="round" stroke-linecap="round"/>
<path d="M97.9 152.0C97.9 152.0 101.1 163.1 103.2 167.2C105.4 171.3 106.4 172.5 108.6 172.5C111.4 172.5 112.8 172.5 115.6 170.7C117.0 168.9 117.8 161.9 119.2 161.9C121.3 161.9 122.4 173.5 124.5 176.0C128.0 178.5 129.8 177.8 133.3 178.5C136.9 179.2 138.6 179.6 142.2 179.6C145.8 179.6 147.5 173.8 151.1 170.7C153.5 168.6 154.7 166.5 157.1 166.5C158.9 166.5 159.9 172.6 161.7 174.3C163.8 176.0 164.9 176.0 167.0 176.0C168.1 176.0 168.7 173.2 169.8 173.2C171.5 173.2 172.4 192.0 174.1 192.0C176.2 192.0 177.3 175.3 179.4 175.3C182.9 175.3 184.7 178.5 188.2 178.5C191.0 178.5 192.5 178.3 195.3 176.7C198.1 175.1 199.6 170.7 202.4 170.7C205.2 170.7 206.7 171.4 209.5 171.8C213.0 172.4 214.8 171.8 218.3 173.2C219.7 174.6 220.5 182.6 221.9 186.7C224.0 192.7 225.1 198.3 227.2 198.3C230.0 198.3 231.5 188.4 234.3 188.4C236.4 188.4 237.5 196.0 239.6 199.1C241.7 202.2 242.8 203.7 244.9 203.7C247.0 203.7 248.1 194.0 250.2 186.7C252.3 179.4 253.4 167.2 255.5 167.2C257.6 167.2 258.7 177.4 260.8 183.1C262.9 188.8 264.0 195.5 266.1 195.5C268.9 195.5 270.4 191.6 273.2 186.7C274.9 183.8 275.8 176.0 277.5 176.0C278.6 176.0 279.2 181.6 280.3 193.7C281.0 201.5 281.4 218.1 282.1 225.6C283.5 240.1 284.2 241.5 285.6 248.6C288.4 255.7 289.9 253.6 292.7 255.7C295.5 257.8 297.0 255.7 299.8 259.2C301.9 262.7 303.0 271.6 305.1 271.6C307.2 271.6 308.3 259.2 310.4 259.2C312.5 259.2 313.6 284.0 315.7 284.0C318.5 284.0 320.0 268.1 322.8 261.0C326.5 251.8 328.3 249.1 332.0 243.3C334.1 239.9 335.2 238.0 337.3 238.0C338.3 238.0 338.8 246.9 339.8 250.4C341.2 255.3 341.9 259.2 343.3 259.2C345.1 259.2 346.1 254.7 347.9 250.4C350.0 245.5 351.1 241.8 353.2 236.2C355.4 230.5 356.4 227.8 358.6 222.1C360.7 216.5 361.8 212.9 363.9 207.9C366.0 202.9 367.1 197.3 369.2 197.3C371.3 197.3 372.4 204.4 374.5 204.4C377.3 204.4 378.8 203.4 381.6 202.6C385.1 201.6 386.9 201.3 390.4 200.1C393.2 199.2 394.7 197.3 397.5 197.3C399.6 197.3 400.7 199.9 402.8 202.6C404.5 204.8 405.4 209.7 407.1 209.7C409.6 209.7 410.9 209.7 413.4 209.7C415.6 209.7 416.6 212.2 418.8 212.2C421.2 212.2 422.4 205.5 424.8 202.6C427.0 199.9 428.2 198.0 430.4 198.0C432.1 198.0 433.0 203.6 434.7 206.1C436.8 209.2 437.9 209.4 440.0 212.2C442.1 215.0 443.2 217.5 445.3 220.3C448.1 224.0 449.6 224.9 452.4 228.4C454.5 231.0 455.6 234.8 457.7 235.5C459.8 236.2 460.9 235.5 463.0 236.2C465.1 236.9 466.2 246.9 468.3 246.9C470.4 246.9 471.5 245.1 473.6 242.6C475.8 240.1 476.8 238.3 479.0 234.5C481.1 230.8 482.2 228.1 484.3 223.8C486.4 219.5 487.5 216.9 489.6 213.2C491.7 209.5 492.8 205.4 494.9 205.4C499.1 205.4 501.3 205.4 505.5 206.1C507.6 206.8 508.7 213.0 510.8 216.8C512.9 220.6 514.0 224.9 516.1 224.9C518.2 224.9 519.3 219.8 521.4 216.8C523.6 213.7 524.6 211.5 526.8 209.7C528.9 207.9 530.0 207.9 532.1 207.9C535.6 207.9 537.4 209.8 540.9 211.4C543.7 212.7 545.2 215.0 548.0 215.0C550.1 215.0 551.2 213.6 553.3 212.2C555.4 210.8 556.5 207.9 558.6 207.9C560.7 207.9 561.8 208.7 563.9 211.4C564.6 212.3 565.0 216.8 565.7 216.8C567.1 216.8 567.9 215.0 569.3 215.0C571.4 215.0 572.5 215.0 574.6 215.0C576.0 215.0 576.7 215.7 578.1 222.1C579.7 229.2 580.4 248.6 582.0 248.6C584.1 248.6 585.2 239.7 587.3 236.2C589.4 232.7 590.5 232.4 592.6 230.9C595.4 228.9 596.9 227.4 599.7 227.4C602.3 227.4 603.5 233.4 606.1 233.4C608.5 233.4 609.7 231.4 612.1 229.2C615.3 226.2 617.0 220.3 620.2 220.3C621.9 220.3 622.8 227.7 624.5 229.9C626.6 232.6 627.7 230.7 629.8 232.7C631.9 234.7 633.0 237.7 635.1 239.8C637.2 241.9 638.3 240.6 640.4 243.3C642.2 245.6 643.2 248.1 645.0 252.2C646.0 254.4 646.5 259.2 647.5 259.2C649.6 259.2 650.7 254.6 652.8 254.6C655.6 254.6 657.1 255.7 659.9 255.7C662.7 255.7 664.2 252.4 667.0 250.4C669.1 248.9 670.2 247.7 672.3 246.9C675.1 246.1 676.6 246.9 679.4 246.1C682.2 245.3 683.7 241.5 686.5 241.5C688.6 241.5 689.7 245.7 691.8 246.9C694.6 248.5 696.1 248.6 698.9 248.6C702.4 248.6 704.2 243.3 707.7 243.3C709.8 243.3 710.9 245.5 713.0 246.9C715.1 248.3 716.2 250.4 718.3 250.4C720.4 250.4 721.5 248.9 723.6 245.1C726.2 240.5 727.4 229.2 730.0 229.2C731.7 229.2 732.6 231.7 734.3 234.5C736.4 238.0 737.5 245.1 739.6 245.1C741.7 245.1 742.8 242.6 744.9 242.6C747.0 242.6 748.1 242.6 750.2 242.6C750.9 242.6 751.3 236.3 752.0 234.5C754.1 232.7 755.2 232.7 757.3 232.7C759.4 232.7 760.5 234.8 762.6 238.0C764.7 241.2 765.8 246.8 767.9 248.6C770.7 250.4 772.2 249.3 775.0 250.4C777.8 251.5 779.3 252.3 782.1 253.9C784.2 255.1 785.3 256.8 787.4 257.5C789.5 258.2 790.6 258.2 792.7 258.2C795.5 258.2 797.0 258.2 799.8 258.2C802.6 258.2 804.1 262.5 806.9 264.6C810.4 267.2 812.2 269.9 815.7 269.9C818.5 269.9 820.0 266.3 822.8 266.3C824.9 266.3 826.0 267.4 828.1 267.4C829.7 267.4 830.4 264.8 832.0 262.8C834.1 260.1 835.2 257.4 837.3 255.7C840.1 253.4 841.6 252.9 844.4 252.9C846.8 252.9 848.0 254.6 850.4 254.6C852.7 254.6 853.8 244.0 856.1 244.0C858.5 244.0 859.7 246.3 862.1 248.6C864.2 250.6 865.3 252.1 867.4 254.6C869.5 257.1 870.6 259.0 872.7 261.0C874.8 263.0 875.9 262.5 878.0 264.6C880.1 266.7 881.2 271.6 883.3 271.6C886.1 271.6 887.6 269.9 890.4 269.9C894.0 269.9 895.7 269.9 899.3 269.9C901.4 269.9 902.5 266.2 904.6 262.8C906.0 260.5 906.7 255.7 908.1 255.7C910.2 255.7 911.3 263.9 913.4 263.9C915.6 263.9 916.6 255.7 918.8 255.7C920.9 255.7 922.0 264.6 924.1 264.6C926.2 264.6 927.3 255.7 929.4 255.7C931.5 255.7 932.6 255.7 934.7 255.7C936.8 255.7 937.9 263.0 940.0 266.3C942.8 270.8 944.3 271.5 947.1 275.2C949.2 277.9 950.3 278.8 952.4 282.3C954.5 285.8 955.6 289.5 957.7 292.9C959.8 296.3 960.9 299.3 963.0 299.3C965.1 299.3 966.2 294.0 968.3 291.1C971.1 287.2 972.6 285.8 975.4 282.3C977.5 279.7 978.6 275.9 980.7 275.9C983.5 275.9 985.0 277.0 987.8 277.0C990.6 277.0 992.1 274.1 994.9 271.6C997.0 269.8 998.1 270.2 1000.2 266.3C1002.3 262.4 1003.4 254.0 1005.5 252.2C1008.3 250.4 1009.8 252.2 1012.6 250.4C1014.7 248.6 1015.8 235.5 1017.9 232.7C1020.0 229.9 1021.1 230.6 1023.2 229.9C1025.3 229.2 1026.4 229.9 1028.5 229.2C1030.6 228.5 1031.7 223.5 1033.8 220.3C1036.0 217.1 1037.0 215.6 1039.2 213.2C1041.3 210.9 1042.4 208.6 1044.5 208.6C1046.6 208.6 1047.7 211.2 1049.8 213.2C1052.2 215.5 1053.4 219.2 1055.8 219.2C1058.4 219.2 1059.6 216.8 1062.2 215.7C1064.3 214.8 1065.4 214.3 1067.5 214.3C1069.6 214.3 1070.7 214.3 1072.8 216.8C1074.9 219.3 1076.0 223.7 1078.1 227.4C1079.7 230.1 1080.4 230.3 1082.0 232.7C1083.7 235.3 1084.5 237.7 1086.2 239.8C1088.1 242.2 1089.0 244.0 1090.9 244.0C1092.7 244.0 1093.7 239.8 1095.5 239.8C1097.5 239.8 1098.4 239.8 1100.4 240.5C1102.2 241.2 1103.2 247.2 1105.0 250.4C1107.1 254.0 1108.2 255.0 1110.3 257.5C1112.4 260.0 1113.5 261.1 1115.6 262.8C1117.8 264.6 1118.8 264.2 1121.0 266.3C1123.1 268.4 1124.2 269.9 1126.3 273.4C1128.4 276.9 1129.5 281.4 1131.6 284.0C1134.4 287.5 1135.9 285.8 1138.7 288.6C1140.8 290.7 1141.9 293.1 1144.0 296.4C1146.1 299.7 1147.2 303.0 1149.3 305.3C1151.4 307.6 1152.5 306.7 1154.6 307.8C1156.7 308.9 1157.8 310.6 1159.9 310.6C1162.0 310.6 1163.1 303.9 1165.2 302.8C1167.3 301.7 1168.4 302.8 1170.5 301.7C1172.6 300.6 1173.7 295.0 1175.8 291.1C1177.6 287.7 1178.6 284.3 1180.4 283.3C1182.8 282.3 1184.1 283.3 1186.5 282.3C1187.9 281.3 1188.6 278.2 1190.0 275.9C1192.1 272.5 1193.2 270.4 1195.3 268.1C1196.7 266.5 1197.5 266.3 1198.9 266.3C1201.0 266.3 1202.1 277.0 1204.2 277.0C1206.3 277.0 1207.4 272.1 1209.5 268.8C1211.6 265.5 1212.7 263.1 1214.8 260.3C1216.9 257.5 1218.0 256.6 1220.1 254.6C1222.2 252.6 1223.3 250.4 1225.4 250.4C1226.8 250.4 1227.6 253.5 1229.0 256.8C1231.1 261.7 1232.2 270.9 1234.3 270.9C1237.1 270.9 1238.5 261.0 1241.3 261.0C1243.0 261.0 1243.9 262.2 1245.6 266.3C1247.4 270.7 1248.4 282.3 1250.2 282.3C1252.3 282.3 1253.4 282.3 1255.5 282.3C1256.9 282.3 1257.7 280.9 1259.1 278.7C1260.5 276.6 1261.2 271.6 1262.6 271.6C1264.0 271.6 1264.7 276.6 1266.1 278.7C1267.5 280.9 1268.3 282.3 1269.7 282.3C1271.8 282.3 1272.9 282.3 1275.0 281.6C1276.4 280.9 1277.1 275.8 1278.5 273.4C1280.6 269.7 1281.7 268.3 1283.8 266.3C1286.6 263.6 1288.1 261.7 1290.9 261.7C1292.3 261.7 1293.1 268.1 1294.5 268.1C1296.6 268.1 1297.7 257.5 1299.8 257.5C1302.2 257.5 1303.4 260.3 1305.8 260.3C1307.6 260.3 1308.6 258.4 1310.4 256.8C1312.8 254.7 1314.0 251.1 1316.4 251.1C1318.2 251.1 1319.2 258.2 1321.0 261.0C1323.1 264.3 1324.2 264.9 1326.3 266.3C1328.6 267.8 1329.7 266.3 1332.0 268.3C1334.3 270.3 1335.4 274.2 1337.7 278.2C1339.9 282.1 1341.1 284.2 1343.3 288.1C1345.6 292.1 1346.7 294.0 1349.0 298.0C1351.3 302.0 1352.4 304.3 1354.7 308.0C1356.9 311.6 1358.1 316.4 1360.3 316.4C1362.6 316.4 1363.7 310.8 1366.0 310.8C1368.2 310.8 1369.4 312.5 1371.6 315.0C1373.9 317.6 1375.0 319.6 1377.3 323.5C1379.3 327.0 1380.4 333.4 1382.4 333.4C1384.3 333.4 1385.3 329.0 1387.2 326.4C1389.5 323.3 1390.6 319.3 1392.9 319.3C1395.7 319.3 1397.2 319.6 1400.0 320.7C1402.8 321.8 1404.2 321.8 1407.0 324.9C1408.7 326.8 1409.6 333.4 1411.3 333.4C1413.0 333.4 1413.8 329.5 1415.5 327.8C1417.2 326.1 1418.1 324.9 1419.8 324.9C1421.5 324.9 1422.3 332.0 1424.0 332.0C1426.3 332.0 1427.4 332.0 1429.7 332.0C1430.8 332.0 1431.4 336.3 1432.5 336.3C1434.8 336.3 1435.9 329.5 1438.2 324.9C1440.1 321.0 1441.1 315.0 1443.0 315.0C1444.5 315.0 1445.2 319.4 1446.7 322.1C1448.4 325.1 1449.2 327.8 1450.9 329.2C1453.2 330.6 1454.3 330.6 1456.6 330.6C1458.8 330.6 1460.0 329.2 1462.2 329.2C1463.4 329.2 1463.9 333.4 1465.1 333.4C1467.3 333.4 1468.5 325.8 1470.7 320.7C1472.4 316.8 1473.3 310.8 1475.0 310.8C1476.7 310.8 1477.5 316.4 1479.2 316.4C1482.0 316.4 1483.5 306.5 1486.3 306.5C1488.0 306.5 1488.9 311.6 1490.6 313.6C1492.8 316.2 1494.0 317.9 1496.2 317.9C1498.5 317.9 1499.6 317.9 1501.9 315.0C1504.1 312.2 1505.3 307.1 1507.5 303.7C1509.8 300.3 1510.9 298.0 1513.2 298.0C1515.5 298.0 1516.6 298.6 1518.9 300.9C1521.1 303.2 1522.3 305.8 1524.5 309.4C1526.8 313.1 1527.9 315.1 1530.2 319.3C1532.5 323.5 1533.6 327.5 1535.9 330.6C1538.1 333.7 1539.3 332.3 1541.5 334.8C1543.8 337.4 1544.9 340.2 1547.2 343.3C1549.4 346.4 1550.6 347.9 1552.8 350.4C1555.1 353.0 1556.2 353.8 1558.5 356.1C1560.2 357.9 1561.1 359.7 1562.8 360.7C1564.5 361.7 1565.3 361.7 1567.0 361.7C1568.3 361.7 1568.9 355.5 1570.2 353.2C1571.5 350.9 1572.1 350.0 1573.4 350.0C1575.5 350.0 1576.6 350.0 1578.7 350.0C1580.8 350.0 1581.9 350.2 1584.0 351.1C1586.1 352.0 1587.2 353.2 1589.3 354.3C1591.4 355.4 1592.5 356.4 1594.6 356.4C1596.7 356.4 1597.8 356.2 1599.9 354.7C1602.0 353.2 1603.1 351.0 1605.2 349.0C1607.3 347.0 1608.4 347.9 1610.5 344.7C1612.6 341.5 1613.7 333.1 1615.8 333.1C1617.1 333.1 1617.7 338.4 1619.0 340.5C1620.3 342.6 1620.9 343.7 1622.2 343.7C1623.9 343.7 1624.8 342.7 1626.5 341.6C1628.2 340.6 1629.0 339.9 1630.7 338.4C1632.4 336.9 1633.3 335.6 1635.0 334.1C1636.7 332.6 1637.5 330.9 1639.2 330.9C1640.9 330.9 1641.7 332.6 1643.4 334.1C1645.1 335.6 1646.0 336.5 1647.7 338.4C1649.4 340.3 1650.2 341.8 1651.9 343.7C1654.0 346.1 1655.1 347.2 1657.2 349.0C1658.9 350.4 1659.8 350.9 1661.5 351.7C1663.6 352.6 1664.7 352.4 1666.8 353.2C1668.5 353.9 1669.3 354.6 1671.0 355.4C1672.7 356.3 1673.6 357.5 1675.3 357.5C1677.4 357.5 1678.5 357.5 1680.6 357.5C1681.4 357.5 1682.7 357.5 1682.7 357.5" fill="none" stroke="#fe6a35" stroke-width="4.8" stroke-linejoin="round" stroke-linecap="round"/>
<path d="M97.1 448.1C97.1 448.1 101.4 447.7 104.3 447.7C108.1 447.7 110.1 448.1 113.9 448.1C116.4 448.1 117.7 448.1 120.2 447.7C122.1 447.3 123.1 444.9 125.0 444.9C127.0 444.9 127.9 446.0 129.9 446.0C131.8 446.0 132.7 446.0 134.6 445.7C136.8 445.4 137.8 444.7 140.0 444.1C142.3 443.4 143.4 443.2 145.7 442.5C147.5 441.9 148.5 442.0 150.3 441.0C152.2 440.0 153.1 437.9 155.0 437.5C159.0 437.1 161.0 437.4 165.0 437.1C167.8 436.9 169.2 436.9 172.0 436.3C173.7 435.9 174.6 435.4 176.3 434.7C177.8 434.1 178.5 433.5 180.0 433.1C182.4 432.4 183.6 433.1 186.0 432.0C187.6 430.9 188.4 429.0 190.0 428.0C192.4 427.0 193.6 427.0 196.0 427.0C198.8 427.0 200.3 429.7 203.1 429.7C205.6 429.7 206.9 429.7 209.4 428.9C210.7 428.1 211.3 426.5 212.6 426.5C214.5 426.5 215.5 431.3 217.4 431.3C219.3 431.3 220.3 430.8 222.2 430.5C224.7 430.1 226.0 430.2 228.5 429.7C231.1 429.2 232.3 428.1 234.9 428.1C237.5 428.1 238.7 428.1 241.3 428.1C243.9 428.1 245.1 429.7 247.7 429.7C250.2 429.7 251.5 429.7 254.0 429.7C257.2 429.7 258.8 428.5 262.0 428.2C262.0 428.2 262.0 428.9 262.0 428.9C264.1 428.2 265.2 426.4 267.3 426.4C269.4 426.4 270.5 426.4 272.6 426.9C275.4 427.5 276.9 428.1 279.7 429.1C282.5 430.1 284.0 431.0 286.8 431.7C289.6 432.4 291.1 432.6 293.9 432.6C296.7 432.6 298.2 432.2 301.0 432.2C303.8 432.2 305.2 432.6 308.0 432.9C310.8 433.2 312.3 433.5 315.1 433.5C317.2 433.5 318.3 430.7 320.4 429.9C322.5 429.1 323.6 429.4 325.7 429.1C328.5 428.7 330.0 428.6 332.8 428.2C335.6 427.8 337.1 428.2 339.9 427.3C342.7 426.4 344.2 424.3 347.0 422.9C349.8 421.5 351.3 421.6 354.1 420.2C356.2 419.1 357.3 418.2 359.4 416.7C361.5 415.2 362.6 412.8 364.7 412.8C366.8 412.8 367.9 414.0 370.0 414.0C372.1 414.0 373.2 412.8 375.3 412.8C378.1 412.8 379.6 412.9 382.4 413.1C385.2 413.3 386.7 413.6 389.5 413.6C391.3 413.6 392.1 412.6 393.9 411.3C395.7 410.0 396.5 406.9 398.3 406.9C399.7 406.9 400.5 408.9 401.9 411.3C402.6 412.4 402.9 415.8 403.6 415.8C404.7 415.8 405.2 412.3 406.3 410.5C407.4 408.7 407.9 406.9 409.0 406.9C410.0 406.9 410.6 408.9 411.6 410.5C412.7 412.1 413.2 414.6 414.3 414.9C416.4 415.2 417.5 415.2 419.6 415.2C421.7 415.2 422.8 414.0 424.9 414.0C426.3 414.0 427.0 416.3 428.4 417.5C429.8 418.8 430.6 420.2 432.0 420.2C434.8 420.2 436.3 418.0 439.1 417.5C441.9 417.0 443.3 417.5 446.1 417.0C448.9 416.5 450.4 414.9 453.2 414.0C455.3 413.3 456.4 413.4 458.5 413.1C461.3 412.7 462.8 412.6 465.6 412.2C468.4 411.8 469.9 411.3 472.7 411.0C475.5 410.7 477.0 410.5 479.8 410.5C481.9 410.5 483.0 412.2 485.1 412.2C487.2 412.2 488.3 409.9 490.4 408.7C492.5 407.5 493.6 406.4 495.7 406.4C497.1 406.4 497.9 410.5 499.3 410.5C501.4 410.5 502.5 410.5 504.6 410.5C506.7 410.5 507.8 408.1 509.9 407.8C510.7 407.5 511.2 407.7 512.0 407.5C514.1 407.1 515.2 407.5 517.3 406.4C519.4 405.3 520.5 397.2 522.6 397.2C524.0 397.2 524.8 398.3 526.2 399.0C528.3 400.0 529.4 400.8 531.5 401.6C534.3 402.7 535.8 403.1 538.6 403.9C541.4 404.7 542.8 405.2 545.6 405.7C549.2 406.4 550.9 405.9 554.5 406.9C556.6 407.5 557.7 409.6 559.8 409.6C561.2 409.6 561.9 408.3 563.3 406.9C564.4 405.8 564.9 403.4 566.0 403.4C567.1 403.4 567.6 405.1 568.7 406.0C570.1 407.2 570.8 408.7 572.2 408.7C574.0 408.7 574.8 407.9 576.6 406.0C578.7 403.7 579.8 401.2 581.9 398.1C583.3 396.0 584.1 394.8 585.5 392.8C586.9 390.9 587.6 388.3 589.0 388.3C590.4 388.3 591.2 390.3 592.6 391.9C594.4 393.9 595.2 395.0 597.0 397.2C598.4 398.9 599.1 400.2 600.5 401.6C602.3 403.4 603.2 405.1 605.0 405.1C607.5 405.1 608.7 403.3 611.2 402.5C614.0 401.6 615.4 400.7 618.2 400.7C621.0 400.7 622.5 400.7 625.3 401.1C627.4 401.5 628.5 402.4 630.6 403.4C632.0 404.0 632.8 405.1 634.2 405.1C635.6 405.1 636.3 404.7 637.7 402.5C639.5 399.8 640.3 396.7 642.1 392.8C643.9 388.9 644.8 386.0 646.6 383.0C647.6 381.3 648.2 380.9 649.2 380.9C651.0 380.9 651.8 382.8 653.6 384.8C655.8 387.2 656.8 388.3 659.0 391.9C661.1 395.4 662.2 401.6 664.3 402.5C665.7 403.4 666.4 403.4 667.8 403.4C669.9 403.4 671.0 402.7 673.1 401.6C675.2 400.5 676.3 400.2 678.4 398.1C679.8 396.7 680.6 395.1 682.0 392.8C683.4 390.5 684.1 386.6 685.5 386.6C686.9 386.6 687.7 391.0 689.1 392.8C690.5 394.5 691.2 395.4 692.6 395.4C695.4 395.4 696.9 395.4 699.7 395.4C701.1 395.4 701.8 395.4 703.2 395.4C704.6 395.4 705.4 391.0 706.8 388.3C708.9 384.3 710.0 380.4 712.1 378.6C713.5 376.8 714.2 376.8 715.6 376.8C717.0 376.8 717.8 380.4 719.2 380.4C720.6 380.4 721.3 379.1 722.7 377.7C724.8 375.6 725.9 373.1 728.0 371.5C730.1 369.9 731.2 370.3 733.3 369.7C734.7 369.3 735.5 369.6 736.9 368.9C738.3 368.2 739.0 366.2 740.4 366.2C741.8 366.2 742.5 368.9 743.9 370.6C745.3 372.4 746.1 375.0 747.5 375.0C748.9 375.0 749.6 375.0 751.0 375.0C752.1 375.0 752.6 379.4 753.7 381.2C755.1 383.0 755.8 383.0 757.2 383.0C758.3 383.0 758.8 379.3 759.9 378.6C763.5 376.4 765.3 378.3 768.9 375.7C771.3 374.0 772.4 371.8 774.8 367.9C777.1 364.0 778.3 359.5 780.6 356.2C782.6 353.4 783.5 352.7 785.5 352.7C788.2 352.7 789.6 353.6 792.3 355.2C794.6 356.6 795.8 356.6 798.1 360.1C800.5 363.6 801.6 370.7 804.0 372.7C805.6 374.7 806.3 374.7 807.9 374.7C809.8 374.7 810.8 371.8 812.7 371.8C814.7 371.8 815.6 375.6 817.6 376.6C819.9 377.6 821.1 377.5 823.4 377.6C827.2 377.7 829.0 377.6 832.8 377.7C834.2 377.8 835.0 381.6 836.4 383.9C837.8 386.2 838.5 389.2 839.9 389.2C842.0 389.2 843.1 389.2 845.2 388.3C846.6 387.4 847.4 384.0 848.8 382.1C850.9 379.4 852.0 376.8 854.1 376.8C856.2 376.8 857.3 376.8 859.4 376.8C861.5 376.8 862.6 380.3 864.7 381.2C867.5 382.1 869.0 381.2 871.8 382.1C873.9 383.0 875.0 386.6 877.1 386.6C879.2 386.6 880.3 382.1 882.4 382.1C883.8 382.1 884.5 382.1 885.9 382.1C887.3 382.1 888.1 383.7 889.5 384.8C891.6 386.5 892.7 389.2 894.8 389.2C896.9 389.2 898.0 387.7 900.1 386.6C901.5 385.9 902.2 384.8 903.6 384.8C905.8 384.8 906.8 388.3 909.0 388.3C911.1 388.3 912.2 385.7 914.3 383.9C916.8 381.8 918.0 378.6 920.5 378.6C922.3 378.6 923.1 382.1 924.9 384.8C927.0 388.1 928.1 389.9 930.2 393.6C932.0 396.6 932.8 397.6 934.6 401.6C935.7 404.0 936.2 409.6 937.3 409.6C939.4 409.6 940.5 408.3 942.6 407.8C944.7 407.3 945.8 406.9 947.9 406.9C949.3 406.9 950.0 409.9 951.4 411.3C952.5 412.4 953.0 413.1 954.1 413.1C955.2 413.1 955.7 406.6 956.8 404.3C958.2 401.3 958.9 400.9 960.3 399.8C963.1 397.7 964.6 397.4 967.4 396.3C969.2 395.6 970.0 395.4 971.8 395.4C973.6 395.4 974.4 402.5 976.2 402.5C978.3 402.5 979.4 396.9 981.5 393.6C983.3 390.8 984.2 387.4 986.0 387.4C987.8 387.4 988.6 393.6 990.4 395.4C992.5 397.2 993.6 397.2 995.7 397.2C998.5 397.2 1000.0 395.3 1002.8 394.5C1004.9 393.9 1006.0 394.5 1008.1 393.6C1009.7 392.7 1010.4 388.3 1012.0 388.3C1013.4 388.3 1014.1 388.5 1015.5 390.1C1016.9 391.7 1017.7 395.4 1019.1 396.3C1021.9 397.2 1023.4 396.4 1026.2 397.2C1028.3 397.8 1029.4 398.5 1031.5 399.8C1033.6 401.1 1034.7 402.6 1036.8 403.9C1038.2 404.7 1038.9 405.1 1040.3 405.1C1042.4 405.1 1043.5 399.0 1045.6 399.0C1047.8 399.0 1048.8 401.6 1051.0 402.5C1053.1 403.4 1054.2 402.5 1056.3 403.4C1058.4 404.3 1059.5 408.7 1061.6 408.7C1063.7 408.7 1064.8 402.5 1066.9 402.5C1069.0 402.5 1070.1 407.8 1072.2 407.8C1074.3 407.8 1075.4 407.8 1077.5 407.8C1079.3 407.8 1080.1 405.0 1081.9 402.5C1083.7 400.0 1084.6 398.0 1086.4 395.4C1087.8 393.4 1088.5 391.0 1089.9 391.0C1091.3 391.0 1092.0 394.6 1093.4 397.2C1094.8 399.9 1095.6 401.9 1097.0 404.3C1099.1 407.9 1100.2 409.6 1102.3 412.2C1103.7 413.9 1104.4 414.9 1105.8 414.9C1107.2 414.9 1108.0 410.5 1109.4 407.8C1110.8 405.2 1111.5 403.6 1112.9 401.6C1114.7 399.0 1115.5 396.3 1117.3 396.3C1119.1 396.3 1120.0 400.1 1121.8 402.5C1123.9 405.4 1125.0 407.7 1127.1 409.6C1129.2 411.5 1130.3 412.2 1132.4 412.2C1135.2 412.2 1136.7 412.2 1139.5 412.2C1141.6 412.2 1142.7 412.2 1144.8 411.3C1146.2 410.4 1146.9 410.1 1148.3 407.8C1149.7 405.5 1150.5 401.9 1151.9 399.8C1153.3 397.7 1154.0 397.2 1155.4 397.2C1156.8 397.2 1157.6 399.8 1159.0 402.5C1160.4 405.1 1161.1 408.2 1162.5 410.5C1163.9 412.8 1164.6 412.6 1166.0 414.0C1167.8 415.8 1168.7 418.4 1170.5 418.4C1171.5 418.4 1172.1 414.9 1173.1 413.1C1174.5 410.6 1175.3 409.8 1176.7 407.8C1178.8 404.8 1179.9 403.2 1182.0 400.7C1184.1 398.2 1185.2 397.3 1187.3 395.4C1188.7 394.1 1189.4 392.8 1190.8 392.8C1192.2 392.8 1193.0 393.8 1194.4 395.4C1195.8 397.0 1196.5 399.6 1197.9 400.7C1200.0 402.4 1201.1 401.6 1203.2 402.5C1204.6 403.1 1205.4 403.2 1206.8 404.3C1208.9 406.0 1210.0 407.8 1212.1 409.6C1214.2 411.4 1215.3 412.0 1217.4 413.1C1218.8 413.8 1219.5 414.0 1220.9 414.0C1223.0 414.0 1224.1 412.5 1226.2 411.3C1228.3 410.1 1229.4 407.8 1231.5 407.8C1232.9 407.8 1233.7 409.2 1235.1 410.5C1236.5 411.7 1237.2 413.1 1238.6 414.0C1240.7 414.9 1241.8 414.0 1243.9 414.9C1245.3 415.8 1246.1 418.4 1247.5 418.4C1248.9 418.4 1249.6 416.8 1251.0 415.8C1253.1 414.3 1254.2 413.4 1256.3 412.2C1258.6 410.9 1259.7 411.4 1262.0 409.6C1264.1 407.9 1265.2 405.0 1267.3 403.4C1269.4 401.8 1270.5 401.6 1272.6 401.6C1274.7 401.6 1275.8 404.0 1277.9 406.0C1280.7 408.6 1282.2 413.1 1285.0 413.1C1287.1 413.1 1288.2 410.7 1290.3 408.7C1293.1 406.1 1294.6 404.4 1297.4 401.6C1300.2 398.8 1301.7 397.8 1304.5 394.5C1305.9 392.9 1306.6 390.9 1308.0 389.2C1309.8 387.0 1310.7 384.8 1312.5 384.8C1314.3 384.8 1315.1 388.6 1316.9 391.0C1319.0 393.9 1320.1 396.2 1322.2 398.1C1324.3 400.0 1325.4 400.0 1327.5 400.7C1329.6 401.4 1330.7 401.6 1332.8 401.6C1334.9 401.6 1336.0 400.3 1338.1 399.8C1340.2 399.3 1341.3 399.0 1343.4 399.0C1345.6 399.0 1346.6 400.0 1348.8 400.7C1350.9 401.4 1352.0 402.5 1354.1 402.5C1355.9 402.5 1356.7 401.6 1358.5 400.7C1359.6 400.2 1360.1 399.0 1361.2 399.0C1363.3 399.0 1364.4 402.0 1366.5 403.4C1368.6 404.8 1369.7 406.0 1371.8 406.0C1373.9 406.0 1375.0 402.8 1377.1 400.7C1379.2 398.6 1380.3 395.4 1382.4 395.4C1384.5 395.4 1385.6 395.4 1387.7 395.4C1389.1 395.4 1389.8 397.1 1391.2 398.1C1393.4 399.6 1394.4 401.6 1396.6 401.6C1398.7 401.6 1399.8 401.6 1401.9 400.7C1403.3 399.8 1404.0 398.4 1405.4 397.2C1408.2 394.8 1409.7 394.7 1412.5 391.9C1413.9 390.5 1414.6 386.6 1416.0 386.6C1417.4 386.6 1418.2 389.2 1419.6 389.2C1421.0 389.2 1421.7 388.8 1423.1 387.4C1424.5 386.0 1425.3 383.5 1426.7 382.1C1428.5 380.4 1429.3 379.5 1431.1 379.5C1432.9 379.5 1433.7 381.6 1435.5 383.9C1436.9 385.8 1437.7 389.2 1439.1 390.1C1440.5 391.0 1441.2 391.0 1442.6 391.0C1444.0 391.0 1444.7 386.4 1446.1 383.9C1447.9 380.7 1448.8 378.8 1450.6 376.8C1452.0 375.2 1452.7 375.0 1454.1 375.0C1455.9 375.0 1456.7 377.4 1458.5 378.6C1459.9 379.6 1460.6 379.5 1462.0 380.4C1463.8 381.6 1464.6 382.3 1466.4 383.9C1468.2 385.5 1469.1 386.8 1470.9 388.3C1473.0 390.0 1474.1 389.9 1476.2 391.9C1478.3 393.9 1479.4 396.0 1481.5 398.1C1483.6 400.2 1484.7 402.5 1486.8 402.5C1488.9 402.5 1490.0 402.5 1492.1 402.5C1494.2 402.5 1495.3 395.4 1497.4 391.9C1499.5 388.4 1500.6 387.3 1502.7 384.8C1504.8 382.3 1505.9 382.4 1508.0 379.5C1509.8 377.1 1510.7 375.1 1512.5 371.5C1513.5 369.4 1514.1 367.4 1515.1 365.3C1516.2 363.1 1516.7 360.9 1517.8 360.9C1519.2 360.9 1519.9 364.7 1521.3 367.1C1522.7 369.6 1523.5 371.6 1524.9 373.3C1526.7 375.4 1527.5 376.8 1529.3 376.8C1531.4 376.8 1532.5 375.0 1534.6 374.2C1537.4 373.2 1538.9 373.6 1541.7 372.4C1543.8 371.5 1544.9 370.6 1547.0 368.9C1548.8 367.4 1549.6 364.4 1551.4 364.4C1553.2 364.4 1554.0 364.5 1555.8 365.3C1558.0 366.3 1559.0 367.6 1561.2 368.9C1563.3 370.1 1564.4 371.5 1566.5 371.5C1568.6 371.5 1569.7 368.9 1571.8 368.0C1573.9 367.1 1575.0 367.1 1577.1 367.1C1578.5 367.1 1579.2 368.9 1580.6 370.6C1582.0 372.4 1582.8 374.5 1584.2 375.9C1586.0 377.7 1586.8 378.6 1588.6 378.6C1590.4 378.6 1591.2 377.2 1593.0 376.8C1595.8 376.1 1597.3 375.9 1600.1 375.9C1601.5 375.9 1602.2 376.9 1603.6 377.7C1605.8 379.0 1606.8 379.6 1609.0 381.2C1611.1 382.8 1612.2 383.8 1614.3 385.7C1616.1 387.3 1616.9 387.9 1618.7 390.1C1620.1 391.8 1620.8 393.6 1622.2 395.4C1624.7 397.2 1625.9 395.7 1628.4 397.2C1630.5 398.5 1631.6 400.6 1633.7 402.5C1635.5 404.1 1636.4 406.0 1638.2 406.0C1639.2 406.0 1639.8 405.3 1640.8 403.4C1641.9 401.4 1642.4 396.3 1643.5 396.3C1644.9 396.3 1645.6 396.7 1647.0 398.1C1648.4 399.5 1649.2 402.5 1650.6 403.4C1652.4 404.3 1653.2 404.3 1655.0 404.3C1656.4 404.3 1657.1 400.9 1658.5 399.8C1660.6 398.1 1661.7 398.5 1663.8 397.2C1665.6 396.1 1666.5 395.9 1668.3 393.6C1670.1 391.3 1670.9 388.7 1672.7 385.7C1674.5 382.7 1675.3 380.8 1677.1 378.6C1679.2 375.9 1682.4 373.3 1682.4 373.3" fill="none" stroke="#6b8abc" stroke-width="4.8" stroke-linejoin="round" stroke-linecap="round"/>
<path d="M97.1 434.5C97.1 434.5 99.5 433.3 101.1 432.9C103.0 432.4 104.0 432.1 105.9 432.1C108.5 432.1 109.7 433.1 112.3 433.7C114.8 434.3 116.1 434.6 118.6 435.0C121.2 435.4 122.4 435.8 125.0 435.8C126.9 435.8 127.9 435.8 129.8 435.3C131.1 434.8 131.7 431.8 133.0 428.9C134.3 426.0 134.9 420.7 136.2 420.7C137.1 420.7 137.6 421.9 138.5 425.0C139.1 427.1 139.5 432.9 140.1 433.7C141.1 434.5 141.5 434.5 142.5 434.5C145.1 434.5 146.3 434.5 148.9 434.5C151.5 434.5 152.7 436.3 155.3 436.9C157.8 437.5 159.1 437.1 161.6 437.7C164.2 438.3 165.4 440.1 168.0 440.1C169.3 440.1 169.9 439.5 171.2 436.9C171.8 435.6 172.2 432.1 172.8 430.5C174.1 428.9 174.7 428.9 176.0 428.9C177.3 428.9 177.9 430.5 179.2 430.5C181.1 430.5 182.0 430.4 183.9 429.3C185.2 428.5 185.8 426.9 187.1 425.8C189.0 424.1 190.0 423.1 191.9 422.2C193.8 421.3 194.8 422.0 196.7 421.3C198.0 420.9 198.6 419.9 199.9 419.4C201.2 418.9 201.8 418.6 203.1 418.6C204.3 418.6 205.0 419.1 206.2 419.4C208.1 419.8 209.1 420.2 211.0 420.2C212.3 420.2 212.9 418.9 214.2 417.8C215.5 416.7 216.1 414.6 217.4 414.6C218.4 414.6 218.8 414.6 219.8 417.8C220.4 421.0 220.8 428.1 221.4 429.7C222.4 431.3 222.8 431.3 223.8 431.3C225.7 431.3 226.6 431.3 228.5 431.3C231.1 431.3 232.3 431.3 234.9 431.3C237.5 431.3 238.7 429.7 241.3 429.7C243.9 429.7 245.1 430.5 247.7 431.0C250.2 431.5 251.5 432.1 254.0 432.1C257.2 432.1 258.8 431.5 262.0 431.3C262.0 431.3 262.0 431.7 262.0 431.7C264.1 430.5 265.2 428.2 267.3 428.2C269.4 428.2 270.5 428.2 272.6 428.2C274.7 428.2 275.8 429.1 277.9 429.9C279.3 430.5 280.1 431.0 281.5 431.7C284.3 433.1 285.8 435.2 288.6 435.2C291.4 435.2 292.8 432.9 295.6 432.9C298.4 432.9 299.9 432.9 302.7 433.5C304.8 434.1 305.9 435.3 308.0 436.1C310.8 437.1 312.3 437.9 315.1 437.9C317.2 437.9 318.3 435.5 320.4 434.4C322.5 433.3 323.6 433.1 325.7 432.6C328.5 432.0 330.0 431.7 332.8 431.7C335.6 431.7 337.1 432.1 339.9 432.6C342.7 433.1 344.2 433.7 347.0 434.4C349.8 435.1 351.3 436.1 354.1 436.1C355.9 436.1 356.7 435.6 358.5 434.4C360.3 433.2 361.1 430.7 362.9 429.9C365.7 429.1 367.2 429.1 370.0 429.1C372.8 429.1 374.3 429.4 377.1 429.9C380.6 430.5 382.4 430.9 385.9 431.7C388.7 432.3 390.2 432.7 393.0 433.5C395.1 434.1 396.2 435.2 398.3 435.2C400.4 435.2 401.5 434.9 403.6 434.4C405.8 433.9 406.8 434.1 409.0 432.6C410.4 431.6 411.1 428.2 412.5 428.2C413.9 428.2 414.6 429.2 416.0 430.8C417.1 432.0 417.6 435.2 418.7 435.2C420.1 435.2 420.8 433.8 422.2 432.6C423.3 431.7 423.8 430.7 424.9 429.9C427.7 429.1 429.2 429.4 432.0 429.1C434.8 428.8 436.3 428.9 439.1 428.2C441.9 427.5 443.3 426.9 446.1 425.5C448.9 424.1 450.4 422.5 453.2 421.1C456.0 419.7 457.5 419.6 460.3 418.4C462.4 417.5 463.5 417.1 465.6 415.8C467.0 414.9 467.8 413.1 469.2 413.1C471.3 413.1 472.4 415.0 474.5 415.8C477.3 416.8 478.7 416.4 481.5 417.5C484.3 418.6 485.8 421.1 488.6 421.1C491.4 421.1 492.9 421.1 495.7 421.1C498.5 421.1 500.0 420.7 502.8 420.2C505.6 419.7 507.1 418.4 509.9 418.4C510.7 418.4 511.2 418.4 512.0 418.4C514.1 418.4 515.2 419.5 517.3 420.2C519.4 420.9 520.5 421.1 522.6 422.0C525.4 423.2 526.9 425.5 529.7 425.5C532.5 425.5 534.0 423.2 536.8 422.0C539.6 420.8 541.1 420.0 543.9 419.3C546.7 418.6 548.2 418.4 551.0 418.4C553.8 418.4 555.2 421.1 558.0 421.1C560.8 421.1 562.3 417.5 565.1 417.5C567.9 417.5 569.4 421.1 572.2 421.1C575.0 421.1 576.5 419.6 579.3 418.4C582.1 417.2 583.6 416.1 586.4 414.9C589.2 413.7 590.6 412.9 593.4 412.2C596.2 411.5 597.7 411.3 600.5 411.3C603.3 411.3 604.8 412.2 607.6 412.2C609.0 412.2 609.8 409.8 611.2 408.7C612.6 407.7 613.3 406.9 614.7 406.9C616.1 406.9 616.8 407.5 618.2 408.7C619.6 410.0 620.4 411.0 621.8 413.1C623.2 415.2 623.9 419.3 625.3 419.3C626.7 419.3 627.5 418.6 628.9 418.4C631.7 417.9 633.1 417.5 635.9 417.5C638.7 417.5 640.2 418.4 643.0 418.4C644.8 418.4 645.6 412.2 647.4 412.2C648.8 412.2 649.6 413.9 651.0 415.8C652.0 417.1 652.6 419.4 653.6 420.2C655.8 421.9 656.8 422.0 659.0 422.0C661.1 422.0 662.2 422.0 664.3 422.0C667.1 422.0 668.5 422.3 671.3 423.7C674.1 425.1 675.6 429.1 678.4 429.1C681.2 429.1 682.7 425.5 685.5 425.5C688.3 425.5 689.8 425.5 692.6 425.5C694.7 425.5 695.8 428.7 697.9 429.9C700.7 431.5 702.2 431.7 705.0 432.6C707.8 433.5 709.3 434.4 712.1 434.4C714.2 434.4 715.3 434.4 717.4 434.4C718.8 434.4 719.5 431.9 720.9 429.9C722.7 427.3 723.5 422.9 725.3 422.9C727.1 422.9 728.0 427.3 729.8 429.1C732.6 431.9 734.1 433.6 736.9 434.4C740.4 435.2 742.2 435.2 745.7 435.2C747.5 435.2 748.3 435.2 750.1 434.4C750.8 433.6 751.2 428.2 751.9 428.2C753.0 428.2 753.5 430.5 754.6 431.7C756.0 433.3 756.7 435.2 758.1 435.2C759.7 435.2 760.4 435.1 762.0 434.4C763.4 433.7 764.1 433.5 765.5 431.7C766.9 429.9 767.7 427.1 769.1 425.5C770.9 423.6 771.7 422.9 773.5 422.9C774.6 422.9 775.1 424.6 776.2 425.5C777.6 426.7 778.3 428.2 779.7 428.2C781.8 428.2 782.9 428.2 785.0 427.3C787.1 426.4 788.2 425.3 790.3 422.9C791.4 421.7 791.9 420.1 793.0 418.4C794.4 416.2 795.1 413.1 796.5 413.1C797.9 413.1 798.7 414.8 800.1 416.7C801.9 419.0 802.7 420.8 804.5 423.7C806.6 427.2 807.7 430.3 809.8 432.6C811.9 434.9 813.0 434.6 815.1 435.2C817.9 436.0 819.4 435.7 822.2 436.1C825.0 436.5 826.5 437.0 829.3 437.0C832.1 437.0 833.6 437.0 836.4 437.0C839.2 437.0 840.6 437.0 843.4 437.0C844.8 437.0 845.6 433.3 847.0 431.7C848.0 430.5 848.6 429.9 849.6 429.9C850.7 429.9 851.2 432.7 852.3 433.5C854.4 435.1 855.5 436.1 857.6 436.1C860.4 436.1 861.9 436.1 864.7 436.1C867.5 436.1 869.0 435.3 871.8 434.4C874.6 433.5 876.1 432.6 878.9 431.7C881.7 430.8 883.1 430.4 885.9 429.9C888.7 429.4 890.2 429.4 893.0 429.1C895.8 428.8 897.3 428.2 900.1 428.2C902.9 428.2 904.4 428.2 907.2 428.7C909.3 429.2 910.4 430.5 912.5 430.5C914.6 430.5 915.7 430.3 917.8 429.9C920.6 429.4 922.1 428.2 924.9 428.2C927.7 428.2 929.2 428.2 932.0 429.1C934.8 430.0 936.3 432.6 939.1 432.6C941.9 432.6 943.3 430.8 946.1 429.9C948.9 429.0 950.4 429.4 953.2 428.2C954.6 427.6 955.4 425.5 956.8 425.5C958.9 425.5 960.0 430.8 962.1 430.8C964.2 430.8 965.3 430.2 967.4 429.1C969.5 428.0 970.6 427.8 972.7 425.5C974.5 423.6 975.3 420.9 977.1 418.4C978.9 415.9 979.7 414.4 981.5 413.1C983.7 411.5 984.7 411.6 986.9 411.3C989.0 411.0 990.1 411.0 992.2 411.0C994.3 411.0 995.4 413.2 997.5 414.0C999.6 414.8 1000.7 414.0 1002.8 414.9C1004.2 415.8 1004.9 415.8 1006.3 418.4C1007.0 419.7 1007.4 423.7 1008.1 424.6C1009.7 425.5 1010.4 425.5 1012.0 425.5C1014.8 425.5 1016.3 425.0 1019.1 424.6C1021.9 424.2 1023.4 423.4 1026.2 423.4C1029.0 423.4 1030.4 423.4 1033.2 423.4C1035.4 423.4 1036.4 422.3 1038.6 422.3C1041.4 422.3 1042.8 422.6 1045.6 422.9C1048.4 423.2 1049.9 423.7 1052.7 423.7C1055.5 423.7 1057.0 422.9 1059.8 422.9C1062.6 422.9 1064.1 423.7 1066.9 423.7C1069.7 423.7 1071.2 422.5 1074.0 422.0C1077.5 421.4 1079.3 421.9 1082.8 421.1C1085.6 420.5 1087.1 418.4 1089.9 418.4C1092.7 418.4 1094.2 420.2 1097.0 420.2C1099.8 420.2 1101.3 419.3 1104.1 419.3C1106.9 419.3 1108.4 419.3 1111.2 419.3C1114.0 419.3 1115.4 419.3 1118.2 419.3C1121.0 419.3 1122.5 418.9 1125.3 418.4C1128.1 417.9 1129.6 416.7 1132.4 416.7C1135.2 416.7 1136.7 416.7 1139.5 416.7C1141.6 416.7 1142.7 418.1 1144.8 420.2C1146.9 422.3 1148.0 427.3 1150.1 427.3C1152.2 427.3 1153.3 426.1 1155.4 423.7C1156.1 422.9 1156.5 421.1 1157.2 419.3C1159.3 417.5 1160.4 417.5 1162.5 417.5C1164.6 417.5 1165.7 417.7 1167.8 418.4C1169.2 418.8 1169.9 420.2 1171.3 420.2C1172.7 420.2 1173.5 414.9 1174.9 414.0C1177.0 413.1 1178.1 413.7 1180.2 413.1C1182.0 412.6 1182.8 412.6 1184.6 411.3C1185.7 410.5 1186.2 407.8 1187.3 407.8C1188.7 407.8 1189.4 409.5 1190.8 411.3C1192.2 413.1 1193.0 415.0 1194.4 416.7C1196.5 419.2 1197.6 422.0 1199.7 422.0C1201.8 422.0 1202.9 421.6 1205.0 421.1C1206.4 420.8 1207.1 419.8 1208.5 419.8C1210.6 419.8 1211.7 422.1 1213.8 422.9C1216.6 424.0 1218.1 424.6 1220.9 424.6C1223.7 424.6 1225.2 421.8 1228.0 420.2C1230.8 418.6 1232.3 417.8 1235.1 416.7C1237.2 415.8 1238.3 415.2 1240.4 415.2C1242.5 415.2 1243.6 416.7 1245.7 418.4C1247.8 420.1 1248.9 423.7 1251.0 423.7C1253.1 423.7 1254.2 423.7 1256.3 423.7C1258.6 423.7 1259.7 421.1 1262.0 421.1C1264.8 421.1 1266.3 421.8 1269.1 422.9C1271.9 424.0 1273.4 426.4 1276.2 426.4C1279.0 426.4 1280.4 426.4 1283.2 426.4C1286.0 426.4 1287.5 426.9 1290.3 427.3C1293.1 427.7 1294.6 428.2 1297.4 428.2C1299.5 428.2 1300.6 427.2 1302.7 426.4C1304.5 425.7 1305.3 424.6 1307.1 424.6C1308.9 424.6 1309.8 428.2 1311.6 428.2C1313.7 428.2 1314.8 428.2 1316.9 428.2C1319.0 428.2 1320.1 427.6 1322.2 426.4C1324.3 425.2 1325.4 422.0 1327.5 422.0C1329.6 422.0 1330.7 425.5 1332.8 425.5C1334.9 425.5 1336.0 424.9 1338.1 423.7C1340.2 422.5 1341.3 419.3 1343.4 419.3C1345.6 419.3 1346.6 420.7 1348.8 422.0C1350.9 423.2 1352.0 424.4 1354.1 425.5C1356.9 426.9 1358.4 428.2 1361.2 428.2C1363.3 428.2 1364.4 425.5 1366.5 425.5C1369.3 425.5 1370.7 426.4 1373.5 426.4C1376.3 426.4 1377.8 426.4 1380.6 426.4C1382.7 426.4 1383.8 425.1 1385.9 424.6C1388.7 424.0 1390.2 424.2 1393.0 423.7C1395.8 423.2 1397.3 423.0 1400.1 422.0C1402.2 421.2 1403.3 420.1 1405.4 419.3C1407.2 418.6 1408.0 418.4 1409.8 418.4C1411.6 418.4 1412.5 420.1 1414.3 421.1C1416.4 422.2 1417.5 423.7 1419.6 423.7C1421.7 423.7 1422.8 421.1 1424.9 421.1C1427.0 421.1 1428.1 421.8 1430.2 422.9C1432.3 424.0 1433.4 425.2 1435.5 426.4C1437.6 427.6 1438.7 429.1 1440.8 429.1C1442.9 429.1 1444.0 428.1 1446.1 427.3C1448.9 426.3 1450.4 424.6 1453.2 424.6C1455.3 424.6 1456.4 427.3 1458.5 427.3C1459.9 427.3 1460.6 427.3 1462.0 427.3C1464.1 427.3 1465.2 427.4 1467.3 428.2C1468.7 428.8 1469.5 430.8 1470.9 430.8C1472.3 430.8 1473.0 425.5 1474.4 423.7C1476.5 420.9 1477.6 419.3 1479.7 419.3C1481.8 419.3 1482.9 421.1 1485.0 421.1C1487.1 421.1 1488.2 421.1 1490.3 420.2C1492.8 419.3 1494.0 415.8 1496.5 415.8C1499.0 415.8 1500.2 418.0 1502.7 419.3C1504.8 420.4 1505.9 420.6 1508.0 422.0C1510.1 423.4 1511.2 425.2 1513.3 426.4C1515.5 427.7 1516.5 428.2 1518.7 428.2C1520.8 428.2 1521.9 425.3 1524.0 423.7C1526.1 422.1 1527.2 421.6 1529.3 420.2C1531.4 418.8 1532.5 417.8 1534.6 416.7C1536.7 415.6 1537.8 414.5 1539.9 414.5C1542.0 414.5 1543.1 414.5 1545.2 414.9C1547.3 415.3 1548.4 418.4 1550.5 418.4C1552.6 418.4 1553.7 415.8 1555.8 415.8C1558.0 415.8 1559.0 417.3 1561.2 418.4C1563.3 419.5 1564.4 421.1 1566.5 421.1C1568.6 421.1 1569.7 418.0 1571.8 416.7C1574.3 415.2 1575.5 414.0 1578.0 414.0C1580.5 414.0 1581.7 419.3 1584.2 419.3C1586.3 419.3 1587.4 418.6 1589.5 417.5C1592.3 416.1 1593.8 415.1 1596.6 413.1C1598.7 411.6 1599.8 409.6 1601.9 408.7C1604.7 407.8 1606.2 407.8 1609.0 407.8C1610.4 407.8 1611.1 407.8 1612.5 408.7C1613.9 409.6 1614.6 412.2 1616.0 412.2C1617.8 412.2 1618.7 412.2 1620.5 411.3C1621.9 410.4 1622.6 407.4 1624.0 405.1C1625.4 402.8 1626.1 399.8 1627.5 399.8C1629.3 399.8 1630.2 401.9 1632.0 403.4C1634.1 405.1 1635.2 405.9 1637.3 407.8C1639.1 409.4 1639.9 412.2 1641.7 412.2C1643.5 412.2 1644.3 411.6 1646.1 411.3C1648.2 410.9 1649.3 410.5 1651.4 410.5C1652.8 410.5 1653.6 410.5 1655.0 411.3C1656.4 412.1 1657.1 415.8 1658.5 415.8C1660.6 415.8 1661.7 414.9 1663.8 414.9C1666.0 414.9 1667.0 416.7 1669.2 416.7C1671.3 416.7 1672.4 416.5 1674.5 415.8C1675.9 415.4 1676.6 414.5 1678.0 414.0C1679.8 413.4 1682.4 413.1 1682.4 413.1" fill="none" stroke="#d568fb" stroke-width="4.8" stroke-linejoin="round" stroke-linecap="round"/>
<path d="M696.3 448.5C696.3 448.5 700.4 449.3 703.2 449.6C706.0 449.9 707.5 450.0 710.3 450.1C713.1 450.2 714.6 450.3 717.4 450.3C719.1 450.3 719.9 450.3 721.6 450.1C723.4 449.9 724.4 448.8 726.2 447.6C727.7 446.6 728.5 444.6 730.0 444.6C731.6 444.6 732.4 448.9 734.0 448.9C736.6 448.9 737.8 447.9 740.4 447.6C744.6 447.3 746.8 447.5 751.0 447.3C755.4 447.1 757.6 446.8 762.0 446.8C764.8 446.8 766.3 446.8 769.1 446.8C771.9 446.8 773.4 446.3 776.2 445.9C779.0 445.5 780.4 445.4 783.2 444.6C785.4 444.0 786.4 442.3 788.6 442.3C791.4 442.3 792.8 443.2 795.6 443.2C798.4 443.2 799.9 441.1 802.7 439.7C804.8 438.6 805.9 437.0 808.0 437.0C810.8 437.0 812.3 438.5 815.1 439.7C817.9 440.9 819.4 442.3 822.2 443.2C825.0 444.1 826.5 443.6 829.3 444.1C831.4 444.5 832.5 445.3 834.6 445.3C836.7 445.3 837.8 444.0 839.9 443.2C842.7 442.1 844.2 441.4 847.0 440.6C849.8 439.8 851.3 439.8 854.1 439.3C856.9 438.8 858.4 437.9 861.2 437.9C864.0 437.9 865.4 437.9 868.2 437.9C871.0 437.9 872.5 439.7 875.3 439.7C878.1 439.7 879.6 438.6 882.4 437.5C885.2 436.4 886.7 435.3 889.5 434.0C892.3 432.7 893.8 431.6 896.6 430.8C899.4 430.0 900.8 429.9 903.6 429.9C905.8 429.9 906.8 431.7 909.0 432.6C911.1 433.5 912.2 434.4 914.3 434.4C917.1 434.4 918.5 432.4 921.3 431.7C924.1 431.0 925.6 430.8 928.4 430.8C930.5 430.8 931.6 431.3 933.7 432.6C935.1 433.5 935.9 436.1 937.3 436.1C938.7 436.1 939.4 432.9 940.8 431.7C942.2 430.4 943.0 429.9 944.4 429.9C945.8 429.9 946.5 436.1 947.9 436.1C949.3 436.1 950.0 431.7 951.4 430.8C952.8 429.9 953.6 429.9 955.0 429.9C955.7 429.9 956.1 435.2 956.8 435.2C958.9 435.2 960.0 432.6 962.1 432.6C964.9 432.6 966.4 432.6 969.2 432.6C971.3 432.6 972.4 432.6 974.5 433.5C976.3 434.4 977.1 437.9 978.9 437.9C980.7 437.9 981.5 433.6 983.3 432.2C986.1 430.8 987.6 431.3 990.4 430.8C993.2 430.3 994.7 430.2 997.5 429.9C1000.3 429.6 1001.8 429.4 1004.6 429.4C1007.6 429.4 1009.0 429.4 1012.0 429.9C1014.1 430.4 1015.2 431.5 1017.3 432.6C1019.4 433.7 1020.5 435.2 1022.6 435.2C1025.4 435.2 1026.9 435.2 1029.7 435.2C1032.5 435.2 1034.0 434.9 1036.8 434.4C1039.6 433.9 1041.1 432.6 1043.9 432.6C1046.7 432.6 1048.2 432.6 1051.0 432.6C1053.8 432.6 1055.2 433.5 1058.0 433.5C1060.1 433.5 1061.2 433.5 1063.3 432.9C1066.1 432.3 1067.6 429.9 1070.4 429.9C1073.2 429.9 1074.7 429.9 1077.5 429.9C1080.3 429.9 1081.8 429.9 1084.6 429.9C1087.4 429.9 1088.9 431.7 1091.7 431.7C1094.5 431.7 1096.0 431.3 1098.8 430.8C1101.6 430.3 1103.0 429.1 1105.8 429.1C1108.6 429.1 1110.1 430.3 1112.9 430.8C1115.7 431.3 1117.2 431.7 1120.0 431.7C1122.8 431.7 1124.3 430.6 1127.1 429.9C1129.9 429.2 1131.4 428.2 1134.2 428.2C1137.0 428.2 1138.4 429.1 1141.2 429.1C1144.0 429.1 1145.5 428.2 1148.3 428.2C1151.1 428.2 1152.6 429.7 1155.4 430.8C1158.2 431.9 1159.7 432.3 1162.5 433.5C1165.3 434.7 1166.8 436.0 1169.6 437.0C1171.7 437.8 1172.8 437.9 1174.9 437.9C1177.7 437.9 1179.2 432.6 1182.0 432.6C1184.1 432.6 1185.2 433.2 1187.3 434.4C1190.1 436.0 1191.6 437.9 1194.4 439.7C1196.5 441.1 1197.6 442.3 1199.7 442.3C1202.5 442.3 1204.0 441.4 1206.8 441.4C1209.6 441.4 1211.0 442.5 1213.8 443.2C1216.6 443.9 1218.1 445.0 1220.9 445.0C1223.7 445.0 1225.2 445.0 1228.0 444.1C1230.8 443.2 1232.3 440.6 1235.1 440.6C1237.9 440.6 1239.4 441.2 1242.2 441.4C1245.0 441.6 1246.5 441.8 1249.3 441.8C1252.1 441.8 1253.5 441.7 1256.3 441.4C1258.6 441.2 1259.7 440.6 1262.0 440.6C1265.6 440.6 1267.3 440.9 1270.9 441.1C1274.4 441.3 1276.2 441.3 1279.7 441.4C1283.3 441.5 1285.0 441.4 1288.6 441.8C1292.1 442.2 1293.9 442.6 1297.4 443.2C1301.0 443.8 1302.7 444.3 1306.3 445.0C1308.4 445.4 1309.5 445.9 1311.6 445.9C1313.4 445.9 1314.2 445.5 1316.0 443.2C1316.7 442.3 1317.1 441.2 1317.8 437.9C1318.5 434.8 1318.8 433.8 1319.5 427.3C1319.9 423.9 1320.0 418.8 1320.4 413.1C1320.8 407.4 1320.9 399.0 1321.3 399.0C1322.4 399.0 1322.9 399.0 1324.0 399.0C1325.4 399.0 1326.1 405.1 1327.5 405.1C1329.6 405.1 1330.7 401.5 1332.8 399.0C1334.9 396.5 1336.0 392.8 1338.1 392.8C1340.2 392.8 1341.3 396.0 1343.4 398.1C1345.6 400.2 1346.6 401.6 1348.8 403.4C1350.9 405.1 1352.0 406.9 1354.1 406.9C1356.9 406.9 1358.4 406.9 1361.2 406.9C1364.0 406.9 1365.4 408.2 1368.2 408.2C1370.3 408.2 1371.4 408.2 1373.5 407.8C1375.7 407.4 1376.7 403.0 1378.9 400.7C1381.0 398.4 1382.1 396.3 1384.2 396.3C1386.3 396.3 1387.4 399.5 1389.5 401.6C1391.6 403.7 1392.7 406.9 1394.8 406.9C1396.9 406.9 1398.0 406.9 1400.1 406.9C1401.5 406.9 1402.2 402.7 1403.6 401.6C1405.8 399.9 1406.8 399.8 1409.0 399.8C1411.1 399.8 1412.2 400.4 1414.3 400.4C1416.4 400.4 1417.5 399.5 1419.6 397.2C1421.0 395.7 1421.7 392.9 1423.1 391.0C1424.5 389.0 1425.3 387.4 1426.7 387.4C1428.8 387.4 1429.9 391.1 1432.0 393.6C1433.8 395.7 1434.6 399.0 1436.4 399.0C1438.2 399.0 1439.0 395.8 1440.8 393.6C1442.9 390.9 1444.0 386.6 1446.1 386.6C1447.5 386.6 1448.3 387.6 1449.7 388.3C1451.1 389.0 1451.8 390.1 1453.2 390.1C1455.3 390.1 1456.4 385.7 1458.5 385.7C1459.9 385.7 1460.6 385.7 1462.0 386.6C1464.1 387.5 1465.2 391.0 1467.3 392.8C1469.4 394.6 1470.5 394.4 1472.6 395.4C1474.4 396.2 1475.2 395.8 1477.0 397.2C1478.8 398.6 1479.7 400.5 1481.5 402.5C1483.3 404.4 1484.1 406.9 1485.9 406.9C1487.7 406.9 1488.5 405.7 1490.3 405.7C1492.1 405.7 1493.0 406.4 1494.8 406.9C1496.2 407.3 1496.9 407.8 1498.3 407.8C1499.7 407.8 1500.4 399.8 1501.8 399.8C1503.2 399.8 1504.0 401.4 1505.4 402.5C1506.8 403.5 1507.5 405.1 1508.9 405.1C1510.7 405.1 1511.5 398.1 1513.3 398.1C1515.5 398.1 1516.5 399.6 1518.7 401.6C1520.8 403.5 1521.9 405.3 1524.0 407.8C1526.1 410.3 1527.2 411.9 1529.3 414.0C1531.4 416.1 1532.5 416.8 1534.6 418.4C1536.7 420.0 1537.8 420.4 1539.9 422.0C1542.0 423.6 1543.1 425.2 1545.2 426.4C1547.3 427.6 1548.4 428.2 1550.5 428.2C1552.6 428.2 1553.7 428.2 1555.8 428.2C1558.0 428.2 1559.0 429.2 1561.2 429.9C1563.3 430.6 1564.4 431.0 1566.5 431.7C1568.6 432.4 1569.7 433.5 1571.8 433.5C1573.9 433.5 1575.0 433.0 1577.1 432.6C1579.2 432.2 1580.3 432.2 1582.4 431.7C1584.5 431.2 1585.6 429.9 1587.7 429.9C1589.8 429.9 1590.9 429.9 1593.0 429.9C1595.1 429.9 1596.2 429.8 1598.3 429.1C1600.4 428.4 1601.5 427.8 1603.6 426.4C1605.8 425.0 1606.8 422.0 1609.0 422.0C1611.1 422.0 1612.2 422.4 1614.3 423.7C1615.7 424.5 1616.4 426.4 1617.8 427.3C1619.9 428.2 1621.0 428.2 1623.1 428.2C1625.2 428.2 1626.3 426.4 1628.4 426.4C1630.5 426.4 1631.6 427.5 1633.7 428.2C1635.9 428.9 1636.9 429.9 1639.1 429.9C1641.2 429.9 1642.3 428.7 1644.4 427.3C1646.5 425.9 1647.6 422.9 1649.7 422.9C1651.8 422.9 1652.9 423.2 1655.0 423.7C1657.1 424.2 1658.2 424.8 1660.3 425.5C1662.4 426.2 1663.5 427.3 1665.6 427.3C1667.7 427.3 1668.8 425.1 1670.9 423.7C1673.0 422.3 1674.1 421.8 1676.2 420.2C1678.7 418.3 1682.4 414.9 1682.4 414.9" fill="none" stroke="#2ee0ca" stroke-width="4.8" stroke-linejoin="round" stroke-linecap="round"/>
<path d="M653.6 437.9C653.6 437.9 655.2 435.5 656.3 434.4C657.7 433.0 658.4 431.7 659.8 431.7C660.9 431.7 661.4 434.3 662.5 436.1C663.9 438.4 664.6 440.0 666.0 441.8C668.1 443.6 669.2 443.1 671.3 443.6C674.1 444.3 675.6 444.4 678.4 445.0C681.2 445.6 682.7 446.4 685.5 446.4C688.3 446.4 689.8 445.4 692.6 445.0C695.4 444.6 696.9 444.6 699.7 444.6C702.5 444.6 704.0 444.9 706.8 445.0C709.6 445.1 711.0 445.3 713.8 445.3C716.6 445.3 718.1 445.3 720.9 445.3C723.7 445.3 725.2 444.6 728.0 444.6C730.1 444.6 731.2 445.5 733.3 445.9C736.1 446.4 737.6 446.5 740.4 446.8C743.2 447.1 744.7 447.6 747.5 447.6C750.3 447.6 751.8 446.8 754.6 446.8C757.6 446.8 759.0 447.1 762.0 447.1C764.8 447.1 766.3 447.1 769.1 447.1C771.9 447.1 773.4 447.0 776.2 446.8C779.7 446.6 781.5 446.2 785.0 446.2C787.1 446.2 788.2 448.5 790.3 449.4C793.1 450.3 794.6 450.3 797.4 450.3C801.6 450.3 803.8 450.3 808.0 450.3C812.3 450.3 814.4 450.7 818.7 450.7C824.3 450.7 827.2 450.7 832.8 450.7C838.5 450.7 841.3 450.7 847.0 450.7C852.7 450.7 855.5 450.7 861.2 450.7C866.8 450.7 869.7 450.7 875.3 450.7C878.9 450.7 880.6 450.6 884.2 449.4C886.0 448.8 886.8 446.4 888.6 446.4C890.4 446.4 891.2 448.3 893.0 448.9C895.8 449.9 897.3 450.3 900.1 450.3C902.9 450.3 904.4 450.3 907.2 450.3C910.0 450.3 911.5 449.4 914.3 449.4C917.1 449.4 918.5 449.4 921.3 449.4C924.9 449.4 926.6 449.0 930.2 448.5C933.8 448.0 935.5 447.1 939.1 447.1C942.6 447.1 944.4 447.1 947.9 447.1C951.5 447.1 953.2 447.6 956.8 447.6C960.3 447.6 962.1 447.6 965.6 447.6C969.2 447.6 970.9 448.1 974.5 448.5C977.3 448.8 978.7 449.4 981.5 449.4C984.3 449.4 985.8 448.5 988.6 448.5C991.4 448.5 992.9 448.7 995.7 448.9C998.5 449.1 1000.0 449.2 1002.8 449.4C1006.5 449.7 1008.3 450.3 1012.0 450.3C1014.8 450.3 1016.3 450.1 1019.1 449.9C1021.9 449.7 1023.4 449.4 1026.2 449.4C1029.0 449.4 1030.4 449.4 1033.2 449.4C1036.0 449.4 1037.5 449.1 1040.3 448.9C1043.1 448.7 1044.6 448.5 1047.4 448.5C1050.2 448.5 1051.7 448.7 1054.5 448.9C1057.3 449.1 1058.8 449.4 1061.6 449.4C1064.4 449.4 1065.9 449.4 1068.7 449.4C1072.2 449.4 1074.0 450.3 1077.5 450.3C1078.6 450.3 1079.1 447.7 1080.2 445.0C1081.2 442.4 1081.8 438.8 1082.8 437.0C1084.2 434.4 1085.0 434.8 1086.4 434.0C1088.5 432.9 1089.6 432.7 1091.7 432.2C1094.5 431.5 1096.0 431.3 1098.8 430.8C1101.6 430.3 1103.0 429.9 1105.8 429.9C1108.6 429.9 1110.1 429.9 1112.9 429.9C1115.7 429.9 1117.2 430.8 1120.0 430.8C1122.8 430.8 1124.3 430.7 1127.1 430.5C1129.9 430.3 1131.4 430.2 1134.2 429.9C1137.0 429.6 1138.4 429.1 1141.2 429.1C1143.4 429.1 1144.4 431.4 1146.6 432.6C1148.7 433.8 1149.8 434.3 1151.9 435.2C1154.0 436.1 1155.1 437.0 1157.2 437.0C1160.0 437.0 1161.5 435.2 1164.3 435.2C1166.4 435.2 1167.5 436.1 1169.6 436.1C1171.7 436.1 1172.8 434.4 1174.9 434.4C1177.7 434.4 1179.2 434.5 1182.0 435.2C1184.8 435.9 1186.3 436.7 1189.1 437.9C1191.9 439.1 1193.3 440.5 1196.1 441.4C1198.9 442.3 1200.4 442.3 1203.2 442.3C1206.0 442.3 1207.5 441.4 1210.3 441.4C1213.1 441.4 1214.6 441.8 1217.4 441.8C1220.2 441.8 1221.7 441.2 1224.5 440.6C1227.3 440.0 1228.7 438.8 1231.5 438.8C1234.3 438.8 1235.8 439.3 1238.6 439.7C1241.4 440.1 1242.9 440.3 1245.7 440.6C1248.5 440.9 1250.0 441.4 1252.8 441.4C1256.5 441.4 1258.3 439.7 1262.0 439.7C1264.8 439.7 1266.3 441.4 1269.1 441.4C1271.9 441.4 1273.4 439.7 1276.2 439.7C1279.0 439.7 1280.4 441.4 1283.2 441.4C1286.0 441.4 1287.5 438.8 1290.3 438.8C1293.1 438.8 1294.6 440.1 1297.4 440.6C1300.2 441.1 1301.7 441.4 1304.5 441.4C1307.3 441.4 1308.8 439.5 1311.6 438.8C1314.4 438.1 1315.9 438.2 1318.7 437.9C1321.5 437.6 1322.9 437.5 1325.7 437.5C1328.5 437.5 1330.0 440.6 1332.8 440.6C1335.6 440.6 1337.1 440.2 1339.9 439.7C1342.7 439.2 1344.2 437.9 1347.0 437.9C1349.8 437.9 1351.3 437.9 1354.1 437.9C1356.9 437.9 1358.4 438.8 1361.2 438.8C1364.0 438.8 1365.4 438.4 1368.2 437.9C1371.0 437.4 1372.5 436.5 1375.3 436.5C1378.1 436.5 1379.6 436.5 1382.4 436.5C1385.2 436.5 1386.7 437.4 1389.5 437.9C1392.3 438.4 1393.8 438.8 1396.6 438.8C1399.4 438.8 1400.8 437.9 1403.6 437.9C1406.4 437.9 1407.9 441.4 1410.7 441.4C1413.5 441.4 1415.0 439.5 1417.8 438.8C1420.6 438.1 1422.1 437.9 1424.9 437.9C1427.7 437.9 1429.2 439.7 1432.0 440.6C1434.8 441.5 1436.3 442.3 1439.1 442.3C1441.9 442.3 1443.3 440.6 1446.1 439.7C1448.9 438.8 1450.4 437.9 1453.2 437.9C1456.0 437.9 1457.5 437.9 1460.3 438.8C1461.0 439.0 1461.3 439.8 1462.0 440.6C1464.8 441.4 1466.3 441.4 1469.1 441.4C1471.9 441.4 1473.4 439.5 1476.2 438.8C1479.0 438.1 1480.4 437.9 1483.2 437.9C1486.0 437.9 1487.5 438.8 1490.3 438.8C1493.1 438.8 1494.6 438.8 1497.4 438.8C1500.2 438.8 1501.7 438.8 1504.5 438.8C1507.3 438.8 1508.8 438.3 1511.6 437.9C1514.4 437.5 1515.9 437.0 1518.7 437.0C1521.5 437.0 1522.9 441.4 1525.7 441.4C1528.5 441.4 1530.0 440.2 1532.8 439.7C1535.6 439.2 1537.1 439.2 1539.9 438.8C1542.7 438.4 1544.2 438.3 1547.0 437.9C1549.8 437.5 1551.3 437.0 1554.1 437.0C1556.9 437.0 1558.4 439.7 1561.2 439.7C1564.0 439.7 1565.4 439.7 1568.2 438.8C1571.0 437.9 1572.5 436.0 1575.3 434.4C1578.1 432.8 1579.6 431.8 1582.4 430.8C1584.5 430.0 1585.6 430.4 1587.7 429.9C1589.8 429.4 1590.9 428.8 1593.0 428.2C1595.8 427.4 1597.3 426.4 1600.1 426.4C1602.2 426.4 1603.3 429.1 1605.4 429.1C1608.2 429.1 1609.7 427.3 1612.5 427.3C1614.6 427.3 1615.7 429.9 1617.8 429.9C1619.9 429.9 1621.0 425.5 1623.1 425.5C1625.2 425.5 1626.3 426.4 1628.4 426.4C1630.5 426.4 1631.6 422.0 1633.7 422.0C1635.9 422.0 1636.9 422.9 1639.1 422.9C1641.9 422.9 1643.3 418.7 1646.1 418.4C1647.5 418.1 1648.3 418.1 1649.7 418.1C1651.8 418.1 1652.9 420.5 1655.0 422.0C1657.1 423.5 1658.2 424.3 1660.3 425.5C1662.4 426.7 1663.5 428.2 1665.6 428.2C1667.7 428.2 1668.8 426.9 1670.9 426.4C1673.0 425.9 1674.1 425.9 1676.2 425.9C1678.7 425.9 1682.4 429.9 1682.4 429.9" fill="none" stroke="#fa4b42" stroke-width="4.8" stroke-linejoin="round" stroke-linecap="round"/>
<path d="M97.1 411.1C97.1 411.1 99.5 413.2 101.1 415.4C102.4 417.2 103.0 418.3 104.3 421.0C105.6 423.7 106.2 426.5 107.5 428.9C108.5 430.7 108.9 431.3 109.9 431.3C110.9 431.3 111.3 428.8 112.3 427.3C113.6 425.3 114.2 423.7 115.5 422.6C117.4 421.0 118.3 420.7 120.2 420.7C122.1 420.7 123.1 420.7 125.0 420.7C126.3 420.7 126.9 421.4 128.2 424.2C128.8 425.6 129.2 429.1 129.8 431.3C130.4 433.5 130.8 434.3 131.4 435.3C132.7 437.2 133.3 438.2 134.6 438.5C136.5 438.8 137.4 438.8 139.3 438.8C141.9 438.8 143.1 437.6 145.7 436.9C148.3 436.2 149.5 435.3 152.1 435.3C154.7 435.3 155.9 435.3 158.5 435.3C161.0 435.3 162.3 436.1 164.8 436.1C167.4 436.1 168.6 435.2 171.2 434.5C172.5 434.1 173.1 433.4 174.4 433.4C175.7 433.4 176.3 434.6 177.6 435.3C178.9 436.0 179.5 436.9 180.8 436.9C182.7 436.9 183.6 435.0 185.5 434.5C188.1 433.8 189.3 434.0 191.9 433.7C193.8 433.5 194.8 433.4 196.7 433.4C199.3 433.4 200.5 434.8 203.1 435.3C205.6 435.8 206.9 436.1 209.4 436.1C211.3 436.1 212.3 436.1 214.2 436.1C215.5 436.1 216.1 440.1 217.4 440.1C218.7 440.1 219.3 439.5 220.6 438.5C221.9 437.5 222.5 436.1 223.8 435.3C225.7 434.5 226.6 435.1 228.5 434.5C229.8 434.1 230.4 433.5 231.7 432.9C233.0 432.3 233.6 431.3 234.9 431.3C236.8 431.3 237.8 431.9 239.7 432.9C241.0 433.6 241.6 435.1 242.9 435.6C244.2 436.1 244.8 436.1 246.1 436.1C247.4 436.1 248.0 435.1 249.3 434.5C250.2 434.1 250.7 433.7 251.6 433.7C252.6 433.7 253.0 438.6 254.0 440.1C255.3 442.1 255.9 441.8 257.2 442.5C259.1 443.2 260.1 442.9 262.0 443.2C262.0 443.2 262.0 443.3 262.0 443.3C264.8 443.7 266.3 444.1 269.1 444.1C272.6 444.1 274.4 444.1 277.9 442.3C279.0 440.5 279.5 436.0 280.6 427.3C281.3 421.5 281.7 406.0 282.4 406.0C283.8 406.0 284.5 408.0 285.9 409.6C287.0 410.8 287.5 413.1 288.6 413.1C289.6 413.1 290.2 409.9 291.2 407.8C292.6 404.9 293.4 402.4 294.8 400.7C296.6 399.0 297.4 400.7 299.2 399.0C300.6 397.3 301.3 394.9 302.7 391.9C303.8 389.6 304.3 385.7 305.4 385.7C306.4 385.7 307.0 389.7 308.0 392.8C309.1 396.0 309.6 401.6 310.7 401.6C311.7 401.6 312.3 396.4 313.3 394.5C314.4 392.5 314.9 391.9 316.0 391.9C317.1 391.9 317.6 395.0 318.7 399.8C319.4 402.8 319.7 408.4 320.4 411.3C321.5 415.9 322.0 416.9 323.1 418.4C324.9 420.8 325.7 418.7 327.5 421.1C328.9 423.0 329.7 427.4 331.1 429.1C332.5 430.8 333.2 430.8 334.6 430.8C336.0 430.8 336.7 429.1 338.1 425.5C339.2 422.7 339.7 418.3 340.8 414.9C341.7 412.0 342.2 409.6 343.1 409.6C343.9 409.6 344.4 415.5 345.2 418.4C346.3 422.2 346.8 426.4 347.9 426.4C348.9 426.4 349.5 422.7 350.5 421.1C351.6 419.5 352.1 418.4 353.2 418.4C354.2 418.4 354.8 424.7 355.8 427.3C356.9 430.0 357.4 431.7 358.5 431.7C361.0 431.7 362.2 431.7 364.7 431.7C367.5 431.7 369.0 433.5 371.8 434.4C374.6 435.3 376.1 435.7 378.9 436.1C381.7 436.5 383.1 436.5 385.9 436.5C388.7 436.5 390.2 435.9 393.0 434.4C395.1 433.3 396.2 429.9 398.3 429.9C400.4 429.9 401.5 431.4 403.6 432.6C405.8 433.9 406.8 436.1 409.0 436.1C411.1 436.1 412.2 431.8 414.3 429.9C415.7 428.6 416.4 428.2 417.8 428.2C419.2 428.2 419.9 428.2 421.3 428.2C423.5 428.2 424.5 429.1 426.7 429.1C428.8 429.1 429.9 429.1 432.0 429.1C434.8 429.1 436.3 428.5 439.1 428.2C441.9 427.9 443.3 428.1 446.1 427.6C448.9 427.1 450.4 425.5 453.2 425.5C455.3 425.5 456.4 426.0 458.5 426.9C460.6 427.8 461.7 428.7 463.8 429.9C465.6 430.9 466.5 432.6 468.3 432.6C469.3 432.6 469.9 430.3 470.9 429.1C472.3 427.5 473.1 425.5 474.5 425.5C476.6 425.5 477.7 429.0 479.8 430.8C481.9 432.6 483.0 433.3 485.1 434.4C487.9 435.8 489.4 436.1 492.2 437.0C495.0 437.9 496.5 438.8 499.3 438.8C501.4 438.8 502.5 438.6 504.6 437.0C506.7 435.4 507.8 435.4 509.9 430.8C510.7 429.0 511.2 422.9 512.0 421.1C514.1 419.3 515.2 420.8 517.3 419.3C519.6 417.6 520.7 413.1 523.0 413.1C524.3 413.1 524.9 414.6 526.2 415.8C527.6 417.1 528.3 418.4 529.7 419.3C532.5 421.2 534.0 421.3 536.8 422.9C539.6 424.5 541.1 426.1 543.9 427.3C546.7 428.5 548.2 428.5 551.0 429.1C553.1 429.5 554.2 429.9 556.3 429.9C557.7 429.9 558.4 424.0 559.8 422.0C561.9 419.0 563.0 418.9 565.1 417.5C567.2 416.1 568.3 416.2 570.4 414.9C572.2 413.8 573.1 413.2 574.9 411.3C576.3 409.8 577.0 406.4 578.4 406.4C579.1 406.4 579.5 410.8 580.2 413.1C581.2 416.4 581.8 420.2 582.8 420.2C584.2 420.2 585.0 415.8 586.4 414.0C587.8 412.2 588.5 411.3 589.9 411.3C591.7 411.3 592.5 411.3 594.3 411.3C595.4 411.3 595.9 414.8 597.0 416.7C598.4 419.1 599.1 420.7 600.5 422.0C603.3 424.6 604.8 425.2 607.6 426.4C610.4 427.6 611.9 427.6 614.7 428.2C616.8 428.7 617.9 429.1 620.0 429.1C622.1 429.1 623.2 427.3 625.3 427.3C628.1 427.3 629.6 429.1 632.4 429.1C635.2 429.1 636.7 428.6 639.5 428.2C642.3 427.8 643.8 428.2 646.6 427.3C649.4 426.4 650.8 424.0 653.6 422.9C656.4 421.8 657.9 421.6 660.7 421.6C663.5 421.6 665.0 421.6 667.8 421.6C670.6 421.6 672.1 422.4 674.9 422.9C677.7 423.4 679.2 423.8 682.0 424.1C684.8 424.4 686.3 424.1 689.1 424.6C690.5 425.1 691.2 427.3 692.6 429.1C694.0 430.9 694.7 432.6 696.1 433.5C698.9 434.4 700.4 434.4 703.2 434.4C705.3 434.4 706.4 434.4 708.5 433.5C709.9 432.6 710.7 429.9 712.1 429.9C713.5 429.9 714.2 429.9 715.6 429.9C717.0 429.9 717.8 436.1 719.2 437.9C721.3 439.7 722.4 439.2 724.5 439.7C727.3 440.3 728.7 440.6 731.5 440.6C734.3 440.6 735.8 440.6 738.6 440.6C741.4 440.6 742.9 440.6 745.7 440.6C748.5 440.6 750.0 440.6 752.8 440.6C754.2 440.6 754.9 440.4 756.3 439.7C758.6 438.6 759.7 436.1 762.0 436.1C764.1 436.1 765.2 436.8 767.3 437.9C769.8 439.2 771.0 442.3 773.5 442.3C775.6 442.3 776.7 439.4 778.8 437.9C781.3 436.2 782.5 436.1 785.0 434.4C787.1 432.9 788.2 429.9 790.3 429.9C792.4 429.9 793.5 430.5 795.6 431.7C797.8 433.0 798.8 434.3 801.0 436.1C803.1 437.9 804.2 440.6 806.3 440.6C809.1 440.6 810.5 438.8 813.3 438.8C816.1 438.8 817.6 439.3 820.4 439.7C823.2 440.1 824.7 440.6 827.5 440.6C830.3 440.6 831.8 439.3 834.6 439.3C837.4 439.3 838.9 440.2 841.7 440.6C844.5 441.0 846.0 441.4 848.8 441.4C851.6 441.4 853.0 441.4 855.8 441.4C858.6 441.4 860.1 441.5 862.9 441.8C865.7 442.1 867.2 442.3 870.0 442.9C872.8 443.5 874.3 444.6 877.1 444.6C879.2 444.6 880.3 443.9 882.4 443.2C884.5 442.5 885.6 441.1 887.7 441.1C890.5 441.1 892.0 441.1 894.8 441.4C897.6 441.7 899.1 442.7 901.9 443.2C904.7 443.7 906.2 443.8 909.0 444.1C911.8 444.4 913.2 444.6 916.0 444.6C918.1 444.6 919.2 444.6 921.3 444.1C922.7 443.6 923.5 442.7 924.9 442.3C927.7 441.6 929.2 441.7 932.0 441.4C934.8 441.1 936.3 441.0 939.1 440.6C941.2 440.3 942.3 439.7 944.4 439.7C946.5 439.7 947.6 440.3 949.7 440.6C951.8 440.9 952.9 441.4 955.0 441.4C956.4 441.4 957.1 439.8 958.5 437.9C960.3 435.5 961.2 430.8 963.0 430.8C964.0 430.8 964.6 431.0 965.6 432.6C967.0 434.9 967.8 439.4 969.2 440.6C971.3 441.8 972.4 441.8 974.5 441.8C976.3 441.8 977.1 441.1 978.9 439.7C981.4 437.8 982.6 433.5 985.1 433.5C986.5 433.5 987.2 438.8 988.6 438.8C990.0 438.8 990.8 438.8 992.2 438.8C994.3 438.8 995.4 437.0 997.5 436.1C999.6 435.2 1000.7 435.8 1002.8 434.4C1004.6 433.3 1005.4 429.9 1007.2 429.9C1009.1 429.9 1010.1 434.3 1012.0 435.2C1014.1 436.1 1015.2 436.1 1017.3 436.1C1019.4 436.1 1020.5 434.1 1022.6 433.5C1025.4 432.9 1026.9 433.2 1029.7 432.9C1032.5 432.6 1034.0 432.4 1036.8 432.2C1039.6 432.0 1041.1 432.2 1043.9 431.7C1046.7 431.2 1048.2 430.4 1051.0 429.9C1053.8 429.4 1055.2 429.1 1058.0 429.1C1060.8 429.1 1062.3 429.2 1065.1 429.4C1067.9 429.6 1069.4 429.9 1072.2 429.9C1075.0 429.9 1076.5 429.9 1079.3 429.9C1082.1 429.9 1083.6 430.8 1086.4 430.8C1089.2 430.8 1090.6 430.8 1093.4 430.8C1096.2 430.8 1097.7 430.8 1100.5 429.9C1103.3 429.0 1104.8 427.3 1107.6 426.4C1110.4 425.5 1111.9 426.0 1114.7 425.5C1117.5 425.0 1119.0 424.9 1121.8 423.7C1123.9 422.8 1125.0 420.2 1127.1 420.2C1128.5 420.2 1129.2 423.3 1130.6 424.6C1132.7 426.5 1133.8 428.2 1135.9 428.2C1138.0 428.2 1139.1 426.4 1141.2 426.4C1143.4 426.4 1144.4 429.5 1146.6 430.8C1148.7 432.0 1149.8 432.6 1151.9 432.6C1154.0 432.6 1155.1 429.9 1157.2 429.9C1159.3 429.9 1160.4 431.4 1162.5 432.6C1164.6 433.8 1165.7 436.1 1167.8 436.1C1169.2 436.1 1169.9 433.4 1171.3 430.8C1172.7 428.1 1173.5 423.8 1174.9 422.9C1177.0 422.0 1178.1 422.0 1180.2 422.0C1181.6 422.0 1182.3 422.0 1183.7 423.7C1184.8 425.4 1185.3 430.8 1186.4 430.8C1187.5 430.8 1188.0 429.9 1189.1 429.9C1190.5 429.9 1191.2 430.1 1192.6 431.7C1194.0 433.3 1194.7 436.0 1196.1 437.9C1197.5 439.9 1198.3 441.4 1199.7 441.4C1201.8 441.4 1202.9 441.4 1205.0 441.4C1207.1 441.4 1208.2 440.4 1210.3 439.7C1212.4 439.0 1213.5 437.9 1215.6 437.9C1217.7 437.9 1218.8 437.9 1220.9 437.9C1223.7 437.9 1225.2 436.1 1228.0 436.1C1230.8 436.1 1232.3 436.9 1235.1 437.9C1237.2 438.7 1238.3 439.9 1240.4 440.6C1242.5 441.3 1243.6 441.4 1245.7 441.4C1248.5 441.4 1250.0 441.4 1252.8 440.6C1256.5 439.8 1258.3 435.8 1262.0 435.8C1264.1 435.8 1265.2 436.8 1267.3 437.9C1269.4 439.0 1270.5 441.4 1272.6 441.4C1275.4 441.4 1276.9 440.7 1279.7 439.7C1281.8 438.9 1282.9 437.0 1285.0 437.0C1287.1 437.0 1288.2 438.8 1290.3 438.8C1293.1 438.8 1294.6 437.0 1297.4 437.0C1299.5 437.0 1300.6 437.9 1302.7 438.8C1304.8 439.7 1305.9 440.6 1308.0 441.4C1310.8 442.4 1312.3 442.6 1315.1 443.2C1317.9 443.8 1319.4 444.1 1322.2 444.6C1325.0 445.1 1326.5 445.5 1329.3 445.9C1332.1 446.3 1333.6 446.4 1336.4 446.4C1339.2 446.4 1340.6 446.4 1343.4 446.4C1346.2 446.4 1347.7 446.4 1350.5 445.9C1353.3 445.4 1354.8 444.0 1357.6 443.2C1360.4 442.4 1361.9 441.8 1364.7 441.8C1367.5 441.8 1369.0 442.9 1371.8 442.9C1374.6 442.9 1376.1 441.1 1378.9 439.7C1381.0 438.7 1382.1 438.1 1384.2 437.0C1385.6 436.3 1386.3 435.2 1387.7 435.2C1389.8 435.2 1390.9 436.8 1393.0 437.9C1395.8 439.3 1397.3 440.1 1400.1 441.4C1402.9 442.7 1404.4 444.2 1407.2 444.6C1409.3 445.0 1410.4 445.0 1412.5 445.0C1414.6 445.0 1415.7 444.1 1417.8 443.2C1419.9 442.3 1421.0 441.3 1423.1 440.6C1425.2 439.9 1426.3 439.7 1428.4 439.7C1430.5 439.7 1431.6 441.0 1433.7 441.4C1436.5 442.0 1438.0 442.3 1440.8 442.3C1443.6 442.3 1445.1 441.5 1447.9 440.6C1450.7 439.7 1452.2 438.9 1455.0 437.9C1457.1 437.1 1458.2 436.1 1460.3 436.1C1461.0 436.1 1461.3 436.1 1462.0 436.1C1464.8 436.1 1466.3 437.0 1469.1 437.9C1471.9 438.8 1473.4 440.6 1476.2 440.6C1479.0 440.6 1480.4 439.7 1483.2 439.7C1486.0 439.7 1487.5 439.9 1490.3 440.6C1493.1 441.3 1494.6 443.2 1497.4 443.2C1500.2 443.2 1501.7 442.1 1504.5 441.4C1507.3 440.7 1508.8 440.4 1511.6 439.7C1514.4 439.0 1515.9 437.9 1518.7 437.9C1521.5 437.9 1522.9 440.6 1525.7 440.6C1528.5 440.6 1530.0 439.7 1532.8 439.7C1535.6 439.7 1537.1 443.2 1539.9 443.2C1542.7 443.2 1544.2 441.1 1547.0 439.7C1549.8 438.3 1551.3 436.1 1554.1 436.1C1556.9 436.1 1558.4 439.8 1561.2 440.6C1564.0 441.4 1565.4 441.4 1568.2 441.4C1571.0 441.4 1572.5 437.9 1575.3 437.0C1578.1 436.1 1579.6 436.1 1582.4 436.1C1584.5 436.1 1585.6 438.8 1587.7 438.8C1589.8 438.8 1590.9 437.2 1593.0 436.1C1595.8 434.7 1597.3 433.0 1600.1 432.6C1602.2 432.2 1603.3 432.2 1605.4 432.2C1607.5 432.2 1608.6 433.8 1610.7 434.4C1612.8 435.0 1613.9 434.9 1616.0 435.2C1618.1 435.5 1619.2 436.1 1621.3 436.1C1623.5 436.1 1624.5 436.1 1626.7 436.1C1628.8 436.1 1629.9 434.9 1632.0 433.5C1634.1 432.1 1635.2 430.4 1637.3 429.1C1639.4 427.8 1640.5 428.1 1642.6 426.9C1644.7 425.7 1645.8 422.9 1647.9 422.9C1650.0 422.9 1651.1 423.7 1653.2 424.6C1655.3 425.5 1656.4 426.4 1658.5 427.3C1660.6 428.2 1661.7 429.1 1663.8 429.1C1666.0 429.1 1667.0 427.8 1669.2 427.3C1671.3 426.8 1672.4 426.4 1674.5 426.4C1675.9 426.4 1676.6 426.5 1678.0 427.3C1679.8 428.3 1682.4 430.8 1682.4 430.8" fill="none" stroke="#feb56a" stroke-width="4.8" stroke-linejoin="round" stroke-linecap="round"/>
<path d="M97.1 418.6C97.1 418.6 100.5 419.6 102.7 421.0C104.6 422.2 105.6 424.6 107.5 425.0C110.1 425.4 111.3 425.1 113.9 425.4C115.8 425.7 116.7 425.6 118.6 426.5C120.5 427.4 121.5 428.7 123.4 429.7C125.3 430.7 126.3 431.3 128.2 431.3C130.8 431.3 132.0 430.3 134.6 429.7C137.8 428.9 139.3 428.1 142.5 427.7C145.1 427.3 146.3 427.7 148.9 427.3C150.8 426.9 151.8 425.7 153.7 425.0C156.3 424.1 157.5 424.1 160.1 423.4C162.6 422.7 163.9 421.3 166.4 421.3C169.0 421.3 170.2 421.3 172.8 421.3C175.4 421.3 176.6 422.6 179.2 422.6C181.1 422.6 182.0 422.2 183.9 422.2C186.5 422.2 187.7 424.2 190.3 424.2C192.9 424.2 194.1 423.7 196.7 423.4C199.3 423.1 200.5 422.6 203.1 422.6C205.6 422.6 206.9 422.6 209.4 422.6C212.0 422.6 213.2 422.6 215.8 421.8C217.7 421.0 218.7 418.9 220.6 417.8C222.5 416.7 223.5 416.2 225.4 416.2C228.6 416.2 230.1 417.5 233.3 417.5C235.2 417.5 236.2 416.8 238.1 415.4C240.0 414.0 241.0 412.1 242.9 410.6C244.2 409.6 244.8 409.0 246.1 409.0C248.0 409.0 248.9 409.0 250.8 409.8C252.1 410.6 252.7 413.6 254.0 415.4C255.3 417.2 255.9 418.6 257.2 418.6C259.1 418.6 260.1 416.9 262.0 416.3C262.0 416.3 262.0 417.0 262.0 417.0C264.1 415.4 265.2 412.2 267.3 412.2C269.4 412.2 270.5 414.7 272.6 415.8C274.7 416.9 275.8 416.1 277.9 417.5C279.0 418.2 279.5 419.6 280.6 421.1C281.8 422.8 282.4 425.5 283.6 425.5C375.0 425.5 420.6 425.5 512.0 425.5C612.0 425.5 662.0 425.5 762.0 425.5C862.0 425.5 912.0 425.5 1012.0 425.5C1080.4 425.5 1114.5 425.5 1182.9 425.5C1184.7 425.5 1185.5 421.1 1187.3 421.1C1188.7 421.1 1189.4 421.1 1190.8 421.1C1192.2 421.1 1193.0 422.3 1194.4 423.7C1195.8 425.1 1196.5 428.2 1197.9 428.2C1199.3 428.2 1200.0 426.8 1201.4 426.4C1203.6 425.7 1204.6 425.5 1206.8 425.5C1208.9 425.5 1210.0 425.9 1212.1 426.4C1214.2 426.9 1215.3 428.2 1217.4 428.2C1220.2 428.2 1221.7 428.2 1224.5 428.2C1227.3 428.2 1228.7 430.8 1231.5 430.8C1232.9 430.8 1233.7 428.8 1235.1 428.2C1237.2 427.3 1238.3 426.9 1240.4 426.9C1242.5 426.9 1243.6 429.9 1245.7 429.9C1247.8 429.9 1248.9 429.9 1251.0 429.9C1253.1 429.9 1254.2 427.9 1256.3 426.4C1258.6 424.8 1259.7 422.0 1262.0 422.0C1264.1 422.0 1265.2 423.4 1267.3 424.6C1269.4 425.8 1270.5 427.1 1272.6 428.2C1275.4 429.6 1276.9 430.8 1279.7 430.8C1281.8 430.8 1282.9 429.9 1285.0 429.9C1287.1 429.9 1288.2 430.3 1290.3 430.8C1292.4 431.3 1293.5 432.6 1295.6 432.6C1297.8 432.6 1298.8 431.7 1301.0 431.7C1303.1 431.7 1304.2 433.7 1306.3 434.4C1308.4 435.1 1309.5 435.2 1311.6 435.2C1313.7 435.2 1314.8 434.2 1316.9 432.6C1319.0 431.0 1320.1 427.3 1322.2 427.3C1324.3 427.3 1325.4 427.5 1327.5 428.2C1329.6 428.9 1330.7 429.4 1332.8 430.8C1334.9 432.2 1336.0 435.2 1338.1 435.2C1340.2 435.2 1341.3 435.1 1343.4 434.4C1345.6 433.7 1346.6 431.7 1348.8 431.7C1350.9 431.7 1352.0 432.1 1354.1 432.6C1356.9 433.2 1358.4 434.4 1361.2 434.4C1364.0 434.4 1365.4 433.9 1368.2 433.5C1371.0 433.1 1372.5 433.1 1375.3 432.6C1378.1 432.1 1379.6 430.8 1382.4 430.8C1385.2 430.8 1386.7 431.7 1389.5 431.7C1392.3 431.7 1393.8 431.7 1396.6 431.7C1398.7 431.7 1399.8 431.2 1401.9 431.2C1404.0 431.2 1405.1 434.4 1407.2 434.4C1409.3 434.4 1410.4 434.4 1412.5 434.4C1414.6 434.4 1415.7 432.0 1417.8 430.8C1419.9 429.6 1421.0 428.2 1423.1 428.2C1425.2 428.2 1426.3 428.4 1428.4 429.1C1430.5 429.8 1431.6 431.0 1433.7 431.7C1435.9 432.4 1436.9 431.9 1439.1 432.6C1440.5 433.0 1441.2 434.4 1442.6 434.4C1444.7 434.4 1445.8 430.9 1447.9 429.1C1450.0 427.3 1451.1 425.5 1453.2 425.5C1455.3 425.5 1456.4 429.9 1458.5 429.9C1459.9 429.9 1460.6 429.9 1462.0 429.9C1464.1 429.9 1465.2 431.2 1467.3 431.7C1469.4 432.2 1470.5 432.6 1472.6 432.6C1474.7 432.6 1475.8 429.9 1477.9 429.9C1480.0 429.9 1481.1 430.8 1483.2 430.8C1486.0 430.8 1487.5 430.8 1490.3 430.8C1492.4 430.8 1493.5 428.9 1495.6 427.3C1497.8 425.7 1498.8 422.9 1501.0 422.9C1503.1 422.9 1504.2 425.2 1506.3 426.4C1508.4 427.6 1509.5 428.0 1511.6 429.1C1513.7 430.2 1514.8 430.7 1516.9 431.7C1519.0 432.7 1520.1 433.4 1522.2 434.0C1525.0 434.8 1526.5 435.2 1529.3 435.2C1532.1 435.2 1533.6 435.2 1536.4 435.2C1539.2 435.2 1540.6 435.2 1543.4 435.2C1546.2 435.2 1547.7 433.7 1550.5 432.6C1552.6 431.8 1553.7 430.5 1555.8 430.5C1558.0 430.5 1559.0 430.9 1561.2 431.7C1563.3 432.5 1564.4 434.4 1566.5 434.4C1568.6 434.4 1569.7 432.6 1571.8 431.7C1573.9 430.8 1575.0 429.9 1577.1 429.9C1579.2 429.9 1580.3 431.5 1582.4 432.6C1584.5 433.7 1585.6 435.2 1587.7 435.2C1589.8 435.2 1590.9 433.7 1593.0 432.6C1595.1 431.5 1596.2 431.0 1598.3 429.9C1600.4 428.8 1601.5 427.3 1603.6 427.3C1605.8 427.3 1606.8 429.0 1609.0 429.9C1611.1 430.8 1612.2 431.7 1614.3 431.7C1616.4 431.7 1617.5 431.3 1619.6 430.8C1621.7 430.3 1622.8 430.5 1624.9 429.1C1627.0 427.7 1628.1 425.5 1630.2 423.7C1632.3 421.9 1633.4 421.2 1635.5 420.2C1636.9 419.5 1637.7 419.3 1639.1 419.3C1641.2 419.3 1642.3 420.6 1644.4 422.0C1646.5 423.4 1647.6 424.8 1649.7 426.4C1651.8 428.0 1652.9 428.3 1655.0 429.9C1657.1 431.5 1658.2 433.2 1660.3 434.4C1662.4 435.6 1663.5 436.1 1665.6 436.1C1667.7 436.1 1668.8 434.4 1670.9 433.5C1673.0 432.6 1674.1 431.7 1676.2 431.7C1678.7 431.7 1682.4 432.2 1682.4 432.2" fill="none" stroke="#91e8e1" stroke-width="4.8" stroke-linejoin="round" stroke-linecap="round"/></g>
<g><path d="M367.8 527.4H382.2" stroke="#2caffe" stroke-width="5.2" stroke-linecap="round"/><text x="391.5" y="532" font-size="15.8" fill="#333333" textLength="48.7" lengthAdjust="spacingAndGlyphs">Python</text><path d="M468.5 527.4H482.9" stroke="#544fc5" stroke-width="5.2" stroke-linecap="round"/><text x="492.2" y="532" font-size="15.8" fill="#333333" textLength="9.6" lengthAdjust="spacingAndGlyphs">C</text><path d="M529.8 527.4H544.2" stroke="#00e272" stroke-width="5.2" stroke-linecap="round"/><text x="553.5" y="532" font-size="15.8" fill="#333333" textLength="30.6" lengthAdjust="spacingAndGlyphs">C++</text><path d="M613.0 527.4H627.4" stroke="#fe6a35" stroke-width="5.2" stroke-linecap="round"/><text x="636.7" y="532" font-size="15.8" fill="#333333" textLength="28.6" lengthAdjust="spacingAndGlyphs">Java</text><path d="M695.3 527.4H709.7" stroke="#6b8abc" stroke-width="5.2" stroke-linecap="round"/><text x="718.4" y="532" font-size="15.8" fill="#333333" textLength="19.0" lengthAdjust="spacingAndGlyphs">C#</text><path d="M766.2 527.4H780.6" stroke="#d568fb" stroke-width="5.2" stroke-linecap="round"/><text x="790" y="532" font-size="15.8" fill="#333333" textLength="69.0" lengthAdjust="spacingAndGlyphs">JavaScript</text><path d="M889.1 527.4H903.5" stroke="#2ee0ca" stroke-width="5.2" stroke-linecap="round"/><text x="912.8" y="532" font-size="15.8" fill="#333333" textLength="81.4" lengthAdjust="spacingAndGlyphs">Visual Basic</text><path d="M1023.4 527.4H1037.8" stroke="#fa4b42" stroke-width="5.2" stroke-linecap="round"/><text x="1047" y="532" font-size="15.8" fill="#333333" textLength="19.6" lengthAdjust="spacingAndGlyphs">Go</text><path d="M1095.5 527.4H1109.9" stroke="#feb56a" stroke-width="5.2" stroke-linecap="round"/><text x="1119.7" y="532" font-size="15.8" fill="#333333" textLength="144.8" lengthAdjust="spacingAndGlyphs">Delphi/Object Pascal</text><path d="M1292.5 527.4H1306.9" stroke="#91e8e1" stroke-width="5.2" stroke-linecap="round"/><text x="1316.2" y="532" font-size="15.8" fill="#333333" textLength="27.7" lengthAdjust="spacingAndGlyphs">SQL</text></g>
</svg></body></html>
